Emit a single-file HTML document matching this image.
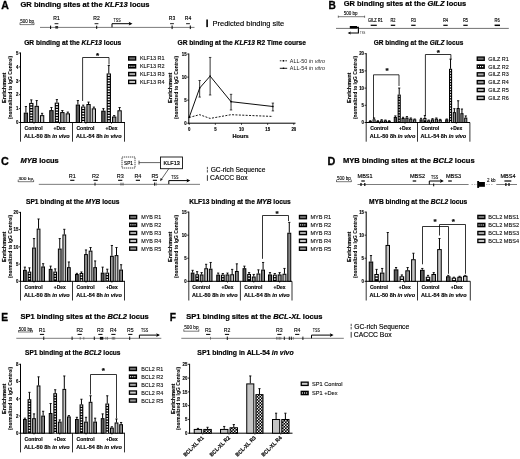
<!DOCTYPE html>
<html><head><meta charset="utf-8"><title>Figure</title>
<style>html,body{margin:0;padding:0;background:#fff}svg{display:block}text{font-family:"Liberation Sans", sans-serif}</style></head>
<body><svg width="520" height="459" viewBox="0 0 520 459">
<defs><pattern id="chk2" width="3" height="3" patternUnits="userSpaceOnUse"><rect width="3" height="3" fill="#000"/><rect x="0.1" y="0.1" width="1.4" height="1.4" fill="#fff"/><rect x="1.6" y="1.6" width="1.4" height="1.4" fill="#fff"/></pattern><pattern id="chk" width="2" height="2" patternUnits="userSpaceOnUse"><rect width="2" height="2" fill="#fff"/><rect width="1" height="1" fill="#000"/><rect x="1" y="1" width="1" height="1" fill="#000"/></pattern></defs>
<rect width="520" height="459" fill="#fff"/>
<text x="1.30" y="8.70" font-size="10.00" fill="#000" font-weight="bold" textLength="7.60" lengthAdjust="spacingAndGlyphs" stroke="#000" stroke-width="0.28">A</text>
<text x="20.50" y="7.00" font-size="7.54" fill="#000" xml:space="preserve" textLength="129.00" lengthAdjust="spacingAndGlyphs" stroke="#000" stroke-width="0.21"><tspan font-weight="bold">GR binding sites at the </tspan><tspan font-weight="bold" font-style="italic">KLF13</tspan><tspan font-weight="bold"> locus</tspan></text>
<line x1="20.00" y1="24.60" x2="34.00" y2="24.60" stroke="#222" stroke-width="0.60"/>
<line x1="20.00" y1="22.60" x2="20.00" y2="24.90" stroke="#222" stroke-width="0.60"/>
<line x1="34.00" y1="22.60" x2="34.00" y2="24.90" stroke="#222" stroke-width="0.60"/>
<text x="20.20" y="23.20" font-size="4.70" fill="#000" textLength="13.80" lengthAdjust="spacingAndGlyphs" stroke="#000" stroke-width="0.10">500 bp</text>
<line x1="40.00" y1="27.40" x2="194.50" y2="27.40" stroke="#222" stroke-width="0.60"/>
<text x="53.30" y="20.40" font-size="5.20" fill="#000" textLength="6.40" lengthAdjust="spacingAndGlyphs" stroke="#000" stroke-width="0.15">R1</text>
<line x1="54.60" y1="23.70" x2="58.40" y2="23.70" stroke="#000" stroke-width="0.90"/>
<text x="93.30" y="20.40" font-size="5.20" fill="#000" textLength="6.40" lengthAdjust="spacingAndGlyphs" stroke="#000" stroke-width="0.15">R2</text>
<line x1="94.60" y1="23.70" x2="98.40" y2="23.70" stroke="#000" stroke-width="0.90"/>
<text x="168.80" y="20.40" font-size="5.20" fill="#000" textLength="6.40" lengthAdjust="spacingAndGlyphs" stroke="#000" stroke-width="0.15">R3</text>
<line x1="170.10" y1="23.70" x2="173.90" y2="23.70" stroke="#000" stroke-width="0.90"/>
<text x="184.80" y="20.40" font-size="5.20" fill="#000" textLength="6.40" lengthAdjust="spacingAndGlyphs" stroke="#000" stroke-width="0.15">R4</text>
<line x1="186.10" y1="23.70" x2="189.90" y2="23.70" stroke="#000" stroke-width="0.90"/>
<line x1="50.60" y1="25.60" x2="50.60" y2="29.00" stroke="#000" stroke-width="1.00"/>
<rect x="55.30" y="26.00" width="2.80" height="2.60" fill="#333"/>
<line x1="96.70" y1="25.70" x2="96.70" y2="28.90" stroke="#000" stroke-width="1.00"/>
<line x1="172.10" y1="25.50" x2="172.10" y2="29.10" stroke="#000" stroke-width="1.00"/>
<line x1="190.30" y1="25.50" x2="190.30" y2="29.10" stroke="#000" stroke-width="1.00"/>
<path d="M112.00 27.30 V23.70 H131.00" fill="none" stroke="#000" stroke-width="1.00"/>
<path d="M132.50 23.70 l-3.8 -1.9 l0.8 1.9 l-0.8 1.9 z" fill="#000" stroke="none" stroke-width="0.00"/>
<text x="113.60" y="22.20" font-size="4.70" fill="#000" textLength="7.20" lengthAdjust="spacingAndGlyphs" stroke="#000" stroke-width="0.08">TSS</text>
<rect x="206.30" y="19.50" width="1.60" height="7.60" fill="#000"/>
<text x="212.50" y="26.40" font-size="7.51" fill="#000" textLength="71.80" lengthAdjust="spacingAndGlyphs" stroke="#000" stroke-width="0.15">Predicted binding site</text>
<text x="24.20" y="45.20" font-size="6.66" fill="#000" xml:space="preserve" textLength="97.00" lengthAdjust="spacingAndGlyphs" stroke="#000" stroke-width="0.19"><tspan font-weight="bold">GR binding at the </tspan><tspan font-weight="bold" font-style="italic">KLF13</tspan><tspan font-weight="bold"> locus</tspan></text>
<text x="-8.80" y="87.80" font-size="5.60" fill="#000" font-weight="bold" textLength="30.40" lengthAdjust="spacingAndGlyphs" stroke="#000" stroke-width="0.16" transform="rotate(-90 6.40 87.80)">Enrichment</text>
<text x="-19.60" y="87.50" font-size="4.90" fill="#000" font-weight="bold" textLength="63.40" lengthAdjust="spacingAndGlyphs" stroke="#000" stroke-width="0.06" transform="rotate(-90 12.10 87.50)">(normalized to IgG Control)</text>
<line x1="20.50" y1="52.50" x2="20.50" y2="123.00" stroke="#000" stroke-width="1.00"/>
<line x1="20.00" y1="122.50" x2="125.00" y2="122.50" stroke="#000" stroke-width="1.00"/>
<line x1="18.90" y1="122.50" x2="20.50" y2="122.50" stroke="#000" stroke-width="0.80"/>
<text x="15.90" y="124.25" font-size="5.00" fill="#000" font-weight="bold" textLength="2.40" lengthAdjust="spacingAndGlyphs" stroke="#000" stroke-width="0.14">0</text>
<line x1="18.90" y1="108.60" x2="20.50" y2="108.60" stroke="#000" stroke-width="0.80"/>
<text x="15.90" y="110.35" font-size="5.00" fill="#000" font-weight="bold" textLength="2.40" lengthAdjust="spacingAndGlyphs" stroke="#000" stroke-width="0.14">1</text>
<line x1="18.90" y1="94.70" x2="20.50" y2="94.70" stroke="#000" stroke-width="0.80"/>
<text x="15.90" y="96.45" font-size="5.00" fill="#000" font-weight="bold" textLength="2.40" lengthAdjust="spacingAndGlyphs" stroke="#000" stroke-width="0.14">2</text>
<line x1="18.90" y1="80.80" x2="20.50" y2="80.80" stroke="#000" stroke-width="0.80"/>
<text x="15.90" y="82.55" font-size="5.00" fill="#000" font-weight="bold" textLength="2.40" lengthAdjust="spacingAndGlyphs" stroke="#000" stroke-width="0.14">3</text>
<line x1="18.90" y1="66.90" x2="20.50" y2="66.90" stroke="#000" stroke-width="0.80"/>
<text x="15.90" y="68.65" font-size="5.00" fill="#000" font-weight="bold" textLength="2.40" lengthAdjust="spacingAndGlyphs" stroke="#000" stroke-width="0.14">4</text>
<line x1="18.90" y1="53.00" x2="20.50" y2="53.00" stroke="#000" stroke-width="0.80"/>
<text x="15.90" y="54.75" font-size="5.00" fill="#000" font-weight="bold" textLength="2.40" lengthAdjust="spacingAndGlyphs" stroke="#000" stroke-width="0.14">5</text>
<line x1="25.91" y1="112.65" x2="25.91" y2="106.53" stroke="#000" stroke-width="1.00"/>
<line x1="24.81" y1="106.53" x2="27.01" y2="106.53" stroke="#000" stroke-width="0.90"/>
<rect x="24.25" y="113.15" width="3.32" height="9.35" fill="#5a5a5a" stroke="#000" stroke-width="1.00"/>
<line x1="31.30" y1="102.92" x2="31.30" y2="99.86" stroke="#000" stroke-width="1.00"/>
<line x1="30.20" y1="99.86" x2="32.40" y2="99.86" stroke="#000" stroke-width="0.90"/>
<rect x="29.14" y="102.92" width="4.32" height="19.58" fill="#000"/>
<rect x="30.29" y="103.92" width="2.02" height="1.40" fill="#fff"/>
<rect x="30.29" y="106.62" width="2.02" height="1.40" fill="#fff"/>
<rect x="30.29" y="109.32" width="2.02" height="1.40" fill="#fff"/>
<rect x="30.29" y="112.02" width="2.02" height="1.40" fill="#fff"/>
<rect x="30.29" y="114.72" width="2.02" height="1.40" fill="#fff"/>
<rect x="30.29" y="117.42" width="2.02" height="1.40" fill="#fff"/>
<rect x="30.29" y="120.12" width="2.02" height="1.40" fill="#fff"/>
<line x1="36.70" y1="105.84" x2="36.70" y2="100.55" stroke="#000" stroke-width="1.00"/>
<line x1="35.60" y1="100.55" x2="37.80" y2="100.55" stroke="#000" stroke-width="0.90"/>
<rect x="35.04" y="106.34" width="3.32" height="16.16" fill="#9a9a9a" stroke="#000" stroke-width="1.00"/>
<line x1="42.09" y1="115.15" x2="42.09" y2="113.34" stroke="#000" stroke-width="1.00"/>
<line x1="40.99" y1="113.34" x2="43.19" y2="113.34" stroke="#000" stroke-width="0.90"/>
<rect x="40.43" y="115.65" width="3.32" height="6.85" fill="#c4c4c4" stroke="#000" stroke-width="1.00"/>
<line x1="51.43" y1="110.15" x2="51.43" y2="107.50" stroke="#000" stroke-width="1.00"/>
<line x1="50.33" y1="107.50" x2="52.53" y2="107.50" stroke="#000" stroke-width="0.90"/>
<rect x="49.75" y="110.65" width="3.37" height="11.85" fill="#5a5a5a" stroke="#000" stroke-width="1.00"/>
<line x1="56.89" y1="102.64" x2="56.89" y2="99.58" stroke="#000" stroke-width="1.00"/>
<line x1="55.79" y1="99.58" x2="57.99" y2="99.58" stroke="#000" stroke-width="0.90"/>
<rect x="54.71" y="102.64" width="4.37" height="19.86" fill="#000"/>
<rect x="55.86" y="103.64" width="2.07" height="1.40" fill="#fff"/>
<rect x="55.86" y="106.34" width="2.07" height="1.40" fill="#fff"/>
<rect x="55.86" y="109.04" width="2.07" height="1.40" fill="#fff"/>
<rect x="55.86" y="111.74" width="2.07" height="1.40" fill="#fff"/>
<rect x="55.86" y="114.44" width="2.07" height="1.40" fill="#fff"/>
<rect x="55.86" y="117.14" width="2.07" height="1.40" fill="#fff"/>
<rect x="55.86" y="119.84" width="2.07" height="1.40" fill="#fff"/>
<line x1="62.36" y1="112.09" x2="62.36" y2="110.56" stroke="#000" stroke-width="1.00"/>
<line x1="61.26" y1="110.56" x2="63.46" y2="110.56" stroke="#000" stroke-width="0.90"/>
<rect x="60.67" y="112.59" width="3.37" height="9.91" fill="#9a9a9a" stroke="#000" stroke-width="1.00"/>
<line x1="67.82" y1="113.34" x2="67.82" y2="112.09" stroke="#000" stroke-width="1.00"/>
<line x1="66.72" y1="112.09" x2="68.92" y2="112.09" stroke="#000" stroke-width="0.90"/>
<rect x="66.13" y="113.84" width="3.37" height="8.66" fill="#c4c4c4" stroke="#000" stroke-width="1.00"/>
<line x1="77.88" y1="104.59" x2="77.88" y2="100.55" stroke="#000" stroke-width="1.00"/>
<line x1="76.78" y1="100.55" x2="78.98" y2="100.55" stroke="#000" stroke-width="0.90"/>
<rect x="76.25" y="105.09" width="3.26" height="17.41" fill="#5a5a5a" stroke="#000" stroke-width="1.00"/>
<line x1="83.21" y1="106.53" x2="83.21" y2="105.14" stroke="#000" stroke-width="1.00"/>
<line x1="82.11" y1="105.14" x2="84.31" y2="105.14" stroke="#000" stroke-width="0.90"/>
<rect x="81.08" y="106.53" width="4.26" height="15.97" fill="#000"/>
<rect x="82.23" y="107.53" width="1.96" height="1.40" fill="#fff"/>
<rect x="82.23" y="110.23" width="1.96" height="1.40" fill="#fff"/>
<rect x="82.23" y="112.93" width="1.96" height="1.40" fill="#fff"/>
<rect x="82.23" y="115.63" width="1.96" height="1.40" fill="#fff"/>
<rect x="82.23" y="118.33" width="1.96" height="1.40" fill="#fff"/>
<rect x="82.23" y="121.03" width="1.96" height="1.40" fill="#fff"/>
<line x1="88.54" y1="104.03" x2="88.54" y2="102.08" stroke="#000" stroke-width="1.00"/>
<line x1="87.44" y1="102.08" x2="89.64" y2="102.08" stroke="#000" stroke-width="0.90"/>
<rect x="86.91" y="104.53" width="3.26" height="17.97" fill="#9a9a9a" stroke="#000" stroke-width="1.00"/>
<line x1="93.87" y1="108.34" x2="93.87" y2="107.09" stroke="#000" stroke-width="1.00"/>
<line x1="92.77" y1="107.09" x2="94.97" y2="107.09" stroke="#000" stroke-width="0.90"/>
<rect x="92.24" y="108.84" width="3.26" height="13.66" fill="#c4c4c4" stroke="#000" stroke-width="1.00"/>
<line x1="103.41" y1="110.70" x2="103.41" y2="108.62" stroke="#000" stroke-width="1.00"/>
<line x1="102.31" y1="108.62" x2="104.51" y2="108.62" stroke="#000" stroke-width="0.90"/>
<rect x="101.75" y="111.20" width="3.32" height="11.30" fill="#5a5a5a" stroke="#000" stroke-width="1.00"/>
<line x1="108.80" y1="73.45" x2="108.80" y2="65.53" stroke="#000" stroke-width="1.00"/>
<line x1="107.70" y1="65.53" x2="109.90" y2="65.53" stroke="#000" stroke-width="0.90"/>
<rect x="106.64" y="73.45" width="4.32" height="49.05" fill="#000"/>
<rect x="107.79" y="74.45" width="2.02" height="1.40" fill="#fff"/>
<rect x="107.79" y="77.15" width="2.02" height="1.40" fill="#fff"/>
<rect x="107.79" y="79.85" width="2.02" height="1.40" fill="#fff"/>
<rect x="107.79" y="82.55" width="2.02" height="1.40" fill="#fff"/>
<rect x="107.79" y="85.25" width="2.02" height="1.40" fill="#fff"/>
<rect x="107.79" y="87.95" width="2.02" height="1.40" fill="#fff"/>
<rect x="107.79" y="90.65" width="2.02" height="1.40" fill="#fff"/>
<rect x="107.79" y="93.35" width="2.02" height="1.40" fill="#fff"/>
<rect x="107.79" y="96.05" width="2.02" height="1.40" fill="#fff"/>
<rect x="107.79" y="98.75" width="2.02" height="1.40" fill="#fff"/>
<rect x="107.79" y="101.45" width="2.02" height="1.40" fill="#fff"/>
<rect x="107.79" y="104.15" width="2.02" height="1.40" fill="#fff"/>
<rect x="107.79" y="106.85" width="2.02" height="1.40" fill="#fff"/>
<rect x="107.79" y="109.55" width="2.02" height="1.40" fill="#fff"/>
<rect x="107.79" y="112.25" width="2.02" height="1.40" fill="#fff"/>
<rect x="107.79" y="114.95" width="2.02" height="1.40" fill="#fff"/>
<rect x="107.79" y="117.65" width="2.02" height="1.40" fill="#fff"/>
<rect x="107.79" y="120.35" width="2.02" height="1.40" fill="#fff"/>
<line x1="114.20" y1="116.54" x2="114.20" y2="115.57" stroke="#000" stroke-width="1.00"/>
<line x1="113.10" y1="115.57" x2="115.30" y2="115.57" stroke="#000" stroke-width="0.90"/>
<rect x="112.54" y="117.04" width="3.32" height="5.46" fill="#9a9a9a" stroke="#000" stroke-width="1.00"/>
<line x1="119.59" y1="110.28" x2="119.59" y2="107.50" stroke="#000" stroke-width="1.00"/>
<line x1="118.49" y1="107.50" x2="120.69" y2="107.50" stroke="#000" stroke-width="0.90"/>
<rect x="117.93" y="110.78" width="3.32" height="11.72" fill="#c4c4c4" stroke="#000" stroke-width="1.00"/>
<line x1="20.50" y1="122.50" x2="20.50" y2="141.70" stroke="#000" stroke-width="0.80"/>
<line x1="72.50" y1="122.50" x2="72.50" y2="141.70" stroke="#000" stroke-width="0.80"/>
<line x1="124.50" y1="122.50" x2="124.50" y2="141.70" stroke="#000" stroke-width="0.80"/>
<line x1="34.00" y1="122.50" x2="34.00" y2="123.80" stroke="#000" stroke-width="0.70"/>
<text x="24.60" y="129.80" font-size="5.30" fill="#000" font-weight="bold" textLength="18.00" lengthAdjust="spacingAndGlyphs" stroke="#000" stroke-width="0.15">Control</text>
<line x1="59.62" y1="122.50" x2="59.62" y2="123.80" stroke="#000" stroke-width="0.70"/>
<text x="53.62" y="129.80" font-size="5.30" fill="#000" font-weight="bold" textLength="12.00" lengthAdjust="spacingAndGlyphs" stroke="#000" stroke-width="0.15">+Dex</text>
<line x1="85.88" y1="122.50" x2="85.88" y2="123.80" stroke="#000" stroke-width="0.70"/>
<text x="76.47" y="129.80" font-size="5.30" fill="#000" font-weight="bold" textLength="18.00" lengthAdjust="spacingAndGlyphs" stroke="#000" stroke-width="0.15">Control</text>
<line x1="111.50" y1="122.50" x2="111.50" y2="123.80" stroke="#000" stroke-width="0.70"/>
<text x="105.50" y="129.80" font-size="5.30" fill="#000" font-weight="bold" textLength="12.00" lengthAdjust="spacingAndGlyphs" stroke="#000" stroke-width="0.15">+Dex</text>
<text x="24.07" y="138.20" font-size="5.50" fill="#000" xml:space="preserve" textLength="45.60" lengthAdjust="spacingAndGlyphs" stroke="#000" stroke-width="0.15"><tspan font-weight="bold">ALL-50 8h </tspan><tspan font-weight="bold" font-style="italic">in vivo</tspan></text>
<text x="75.95" y="138.20" font-size="5.50" fill="#000" xml:space="preserve" textLength="45.60" lengthAdjust="spacingAndGlyphs" stroke="#000" stroke-width="0.15"><tspan font-weight="bold">ALL-54 8h </tspan><tspan font-weight="bold" font-style="italic">in vivo</tspan></text>
<path d="M82.60 101.00 V57.50 H109.00 V64.50" fill="none" stroke="#000" stroke-width="0.80"/>
<text x="95.90" y="57.75" font-size="8.00" fill="#000" font-weight="bold" stroke="#000" stroke-width="0.22">*</text>
<rect x="128.65" y="56.75" width="7.00" height="3.30" fill="#727272" stroke="#000" stroke-width="1.30"/>
<text x="139.90" y="60.40" font-size="5.50" fill="#111" textLength="24.70" lengthAdjust="spacingAndGlyphs" stroke="#111" stroke-width="0.12">KLF13 R1</text>
<rect x="128.00" y="64.00" width="8.30" height="4.60" fill="#000"/>
<rect x="129.30" y="65.70" width="1.10" height="1.20" fill="#fff"/>
<rect x="131.40" y="65.70" width="1.10" height="1.20" fill="#fff"/>
<rect x="133.50" y="65.70" width="1.10" height="1.20" fill="#fff"/>
<text x="139.90" y="68.30" font-size="5.50" fill="#111" textLength="24.70" lengthAdjust="spacingAndGlyphs" stroke="#111" stroke-width="0.12">KLF13 R2</text>
<rect x="128.65" y="72.45" width="7.00" height="3.30" fill="#a9a9a9" stroke="#000" stroke-width="1.30"/>
<text x="139.90" y="76.10" font-size="5.50" fill="#111" textLength="24.70" lengthAdjust="spacingAndGlyphs" stroke="#111" stroke-width="0.12">KLF13 R3</text>
<rect x="128.65" y="80.25" width="7.00" height="3.30" fill="#cccccc" stroke="#000" stroke-width="1.30"/>
<text x="139.90" y="83.90" font-size="5.50" fill="#111" textLength="24.70" lengthAdjust="spacingAndGlyphs" stroke="#111" stroke-width="0.12">KLF13 R4</text>
<text x="177.50" y="45.20" font-size="6.63" fill="#000" xml:space="preserve" textLength="128.50" lengthAdjust="spacingAndGlyphs" stroke="#000" stroke-width="0.19"><tspan font-weight="bold">GR binding at the </tspan><tspan font-weight="bold" font-style="italic">KLF13</tspan><tspan font-weight="bold"> R2 Time course</tspan></text>
<text x="156.60" y="87.80" font-size="5.60" fill="#000" font-weight="bold" textLength="30.40" lengthAdjust="spacingAndGlyphs" stroke="#000" stroke-width="0.16" transform="rotate(-90 171.80 87.80)">Enrichment</text>
<text x="146.50" y="87.50" font-size="4.90" fill="#000" font-weight="bold" textLength="63.40" lengthAdjust="spacingAndGlyphs" stroke="#000" stroke-width="0.06" transform="rotate(-90 178.20 87.50)">(normalized to IgG Control)</text>
<line x1="188.80" y1="53.50" x2="188.80" y2="123.70" stroke="#000" stroke-width="1.00"/>
<line x1="188.30" y1="123.20" x2="295.50" y2="123.20" stroke="#000" stroke-width="1.00"/>
<line x1="187.20" y1="123.20" x2="188.80" y2="123.20" stroke="#000" stroke-width="0.80"/>
<text x="184.20" y="124.95" font-size="5.00" fill="#000" font-weight="bold" textLength="2.40" lengthAdjust="spacingAndGlyphs" stroke="#000" stroke-width="0.14">0</text>
<line x1="187.20" y1="100.15" x2="188.80" y2="100.15" stroke="#000" stroke-width="0.80"/>
<text x="184.20" y="101.90" font-size="5.00" fill="#000" font-weight="bold" textLength="2.40" lengthAdjust="spacingAndGlyphs" stroke="#000" stroke-width="0.14">5</text>
<line x1="187.20" y1="77.10" x2="188.80" y2="77.10" stroke="#000" stroke-width="0.80"/>
<text x="181.80" y="78.85" font-size="5.00" fill="#000" font-weight="bold" textLength="4.80" lengthAdjust="spacingAndGlyphs" stroke="#000" stroke-width="0.14">10</text>
<line x1="187.20" y1="54.05" x2="188.80" y2="54.05" stroke="#000" stroke-width="0.80"/>
<text x="181.80" y="55.80" font-size="5.00" fill="#000" font-weight="bold" textLength="4.80" lengthAdjust="spacingAndGlyphs" stroke="#000" stroke-width="0.14">15</text>
<line x1="189.20" y1="123.20" x2="189.20" y2="124.80" stroke="#000" stroke-width="0.80"/>
<text x="188.00" y="130.70" font-size="5.00" fill="#000" font-weight="bold" textLength="2.40" lengthAdjust="spacingAndGlyphs" stroke="#000" stroke-width="0.14">0</text>
<line x1="215.35" y1="123.20" x2="215.35" y2="124.80" stroke="#000" stroke-width="0.80"/>
<text x="214.15" y="130.70" font-size="5.00" fill="#000" font-weight="bold" textLength="2.40" lengthAdjust="spacingAndGlyphs" stroke="#000" stroke-width="0.14">5</text>
<line x1="241.50" y1="123.20" x2="241.50" y2="124.80" stroke="#000" stroke-width="0.80"/>
<text x="239.10" y="130.70" font-size="5.00" fill="#000" font-weight="bold" textLength="4.80" lengthAdjust="spacingAndGlyphs" stroke="#000" stroke-width="0.14">10</text>
<line x1="267.65" y1="123.20" x2="267.65" y2="124.80" stroke="#000" stroke-width="0.80"/>
<text x="265.25" y="130.70" font-size="5.00" fill="#000" font-weight="bold" textLength="4.80" lengthAdjust="spacingAndGlyphs" stroke="#000" stroke-width="0.14">15</text>
<line x1="293.80" y1="123.20" x2="293.80" y2="124.80" stroke="#000" stroke-width="0.80"/>
<text x="291.40" y="130.70" font-size="5.00" fill="#000" font-weight="bold" textLength="4.80" lengthAdjust="spacingAndGlyphs" stroke="#000" stroke-width="0.14">20</text>
<text x="232.45" y="137.60" font-size="5.60" fill="#000" font-weight="bold" textLength="16.30" lengthAdjust="spacingAndGlyphs" stroke="#000" stroke-width="0.16">Hours</text>
<path d="M189.20 117.37 L199.66 88.05 L210.12 76.11 L231.04 101.69 L272.88 106.49" fill="none" stroke="#000" stroke-width="0.95"/>
<line x1="199.66" y1="97.08" x2="199.66" y2="80.49" stroke="#000" stroke-width="0.80"/>
<line x1="198.46" y1="97.08" x2="200.86" y2="97.08" stroke="#000" stroke-width="0.70"/>
<line x1="198.46" y1="80.49" x2="200.86" y2="80.49" stroke="#000" stroke-width="0.70"/>
<line x1="210.12" y1="95.01" x2="210.12" y2="57.44" stroke="#000" stroke-width="0.80"/>
<line x1="208.92" y1="95.01" x2="211.32" y2="95.01" stroke="#000" stroke-width="0.70"/>
<line x1="208.92" y1="57.44" x2="211.32" y2="57.44" stroke="#000" stroke-width="0.70"/>
<line x1="231.04" y1="109.99" x2="231.04" y2="94.32" stroke="#000" stroke-width="0.80"/>
<line x1="229.84" y1="109.99" x2="232.24" y2="109.99" stroke="#000" stroke-width="0.70"/>
<line x1="229.84" y1="94.32" x2="232.24" y2="94.32" stroke="#000" stroke-width="0.70"/>
<line x1="272.88" y1="110.91" x2="272.88" y2="103.08" stroke="#000" stroke-width="0.80"/>
<line x1="271.68" y1="110.91" x2="274.08" y2="110.91" stroke="#000" stroke-width="0.70"/>
<line x1="271.68" y1="103.08" x2="274.08" y2="103.08" stroke="#000" stroke-width="0.70"/>
<path d="M189.20 117.41 L199.66 114.69 L210.12 118.43 L231.04 114.69 L272.88 116.45" fill="none" stroke="#000" stroke-width="0.90" stroke-dasharray="2 1.4"/>
<rect x="188.50" y="116.67" width="1.40" height="1.40" fill="#000"/>
<rect x="198.96" y="87.35" width="1.40" height="1.40" fill="#000"/>
<rect x="209.42" y="75.41" width="1.40" height="1.40" fill="#000"/>
<rect x="230.34" y="100.99" width="1.40" height="1.40" fill="#000"/>
<rect x="272.18" y="105.79" width="1.40" height="1.40" fill="#000"/>
<line x1="279.80" y1="60.80" x2="287.20" y2="60.80" stroke="#000" stroke-width="0.80" stroke-dasharray="1.6 1.2"/>
<rect x="282.80" y="60.10" width="1.40" height="1.40" fill="#000"/>
<text x="289.80" y="62.60" font-size="5.50" fill="#222" xml:space="preserve" textLength="35.20" lengthAdjust="spacingAndGlyphs"><tspan>ALL-50 </tspan><tspan font-style="italic">in vitro</tspan></text>
<line x1="279.80" y1="68.30" x2="287.20" y2="68.30" stroke="#000" stroke-width="0.90"/>
<rect x="282.80" y="67.60" width="1.40" height="1.40" fill="#000"/>
<text x="289.80" y="70.20" font-size="5.50" fill="#222" xml:space="preserve" textLength="35.20" lengthAdjust="spacingAndGlyphs"><tspan>ALL-54 </tspan><tspan font-style="italic">in vitro</tspan></text>
<text x="328.60" y="8.90" font-size="10.20" fill="#000" font-weight="bold" stroke="#000" stroke-width="0.29">B</text>
<text x="343.70" y="6.40" font-size="7.50" fill="#000" xml:space="preserve" textLength="122.50" lengthAdjust="spacingAndGlyphs" stroke="#000" stroke-width="0.21"><tspan font-weight="bold">GR binding sites at the </tspan><tspan font-weight="bold" font-style="italic">GILZ</tspan><tspan font-weight="bold"> locus</tspan></text>
<line x1="338.30" y1="16.70" x2="364.60" y2="16.70" stroke="#222" stroke-width="0.60"/>
<line x1="338.30" y1="15.60" x2="338.30" y2="17.80" stroke="#222" stroke-width="0.60"/>
<line x1="364.60" y1="15.60" x2="364.60" y2="17.80" stroke="#222" stroke-width="0.60"/>
<text x="343.80" y="14.90" font-size="4.50" fill="#000" textLength="13.80" lengthAdjust="spacingAndGlyphs" stroke="#000" stroke-width="0.10">500 bp</text>
<line x1="336.00" y1="28.40" x2="508.80" y2="28.40" stroke="#111" stroke-width="0.60"/>
<text x="368.00" y="21.60" font-size="4.80" fill="#000" textLength="14.80" lengthAdjust="spacingAndGlyphs" stroke="#000" stroke-width="0.15">GILZ R1</text>
<line x1="370.70" y1="25.30" x2="376.80" y2="25.30" stroke="#000" stroke-width="1.20"/>
<text x="390.50" y="21.60" font-size="4.80" fill="#000" textLength="5.00" lengthAdjust="spacingAndGlyphs" stroke="#000" stroke-width="0.15">R2</text>
<line x1="390.80" y1="25.30" x2="395.20" y2="25.30" stroke="#000" stroke-width="1.20"/>
<text x="410.90" y="21.60" font-size="4.80" fill="#000" textLength="5.00" lengthAdjust="spacingAndGlyphs" stroke="#000" stroke-width="0.15">R3</text>
<line x1="411.20" y1="25.30" x2="415.60" y2="25.30" stroke="#000" stroke-width="1.20"/>
<text x="443.00" y="21.60" font-size="4.80" fill="#000" textLength="5.00" lengthAdjust="spacingAndGlyphs" stroke="#000" stroke-width="0.15">R4</text>
<line x1="443.30" y1="25.30" x2="447.70" y2="25.30" stroke="#000" stroke-width="1.20"/>
<text x="463.00" y="21.60" font-size="4.80" fill="#000" textLength="5.00" lengthAdjust="spacingAndGlyphs" stroke="#000" stroke-width="0.15">R5</text>
<line x1="463.30" y1="25.30" x2="467.70" y2="25.30" stroke="#000" stroke-width="1.20"/>
<text x="494.60" y="21.60" font-size="4.80" fill="#000" textLength="5.20" lengthAdjust="spacingAndGlyphs" stroke="#000" stroke-width="0.15">R6</text>
<line x1="494.60" y1="25.30" x2="500.00" y2="25.30" stroke="#000" stroke-width="1.50"/>
<rect x="349.80" y="26.00" width="7.20" height="2.50" fill="#000"/>
<path d="M356 27.4 H358.4 V33.0 H350" fill="none" stroke="#000" stroke-width="1.10"/>
<path d="M347.6 33.0 l3.2 -1.6 l-0.6 1.6 l0.6 1.6 z" fill="#000" stroke="none" stroke-width="0.00"/>
<text x="360.00" y="33.70" font-size="2.90" fill="#222" textLength="5.20" lengthAdjust="spacingAndGlyphs">TSS</text>
<text x="373.80" y="45.20" font-size="6.50" fill="#000" xml:space="preserve" textLength="89.50" lengthAdjust="spacingAndGlyphs" stroke="#000" stroke-width="0.18"><tspan font-weight="bold">GR binding at the </tspan><tspan font-weight="bold" font-style="italic">GILZ</tspan><tspan font-weight="bold"> locus</tspan></text>
<text x="335.40" y="87.80" font-size="5.60" fill="#000" font-weight="bold" textLength="30.40" lengthAdjust="spacingAndGlyphs" stroke="#000" stroke-width="0.16" transform="rotate(-90 350.60 87.80)">Enrichment</text>
<text x="324.90" y="87.50" font-size="4.90" fill="#000" font-weight="bold" textLength="63.40" lengthAdjust="spacingAndGlyphs" stroke="#000" stroke-width="0.06" transform="rotate(-90 356.60 87.50)">(normalized to IgG Control)</text>
<line x1="366.20" y1="53.20" x2="366.20" y2="123.00" stroke="#000" stroke-width="1.00"/>
<line x1="365.70" y1="122.50" x2="470.00" y2="122.50" stroke="#000" stroke-width="1.00"/>
<line x1="364.60" y1="122.50" x2="366.20" y2="122.50" stroke="#000" stroke-width="0.80"/>
<text x="361.60" y="124.25" font-size="5.00" fill="#000" font-weight="bold" textLength="2.40" lengthAdjust="spacingAndGlyphs" stroke="#000" stroke-width="0.14">0</text>
<line x1="364.60" y1="105.30" x2="366.20" y2="105.30" stroke="#000" stroke-width="0.80"/>
<text x="361.60" y="107.05" font-size="5.00" fill="#000" font-weight="bold" textLength="2.40" lengthAdjust="spacingAndGlyphs" stroke="#000" stroke-width="0.14">5</text>
<line x1="364.60" y1="88.10" x2="366.20" y2="88.10" stroke="#000" stroke-width="0.80"/>
<text x="359.20" y="89.85" font-size="5.00" fill="#000" font-weight="bold" textLength="4.80" lengthAdjust="spacingAndGlyphs" stroke="#000" stroke-width="0.14">10</text>
<line x1="364.60" y1="70.90" x2="366.20" y2="70.90" stroke="#000" stroke-width="0.80"/>
<text x="359.20" y="72.65" font-size="5.00" fill="#000" font-weight="bold" textLength="4.80" lengthAdjust="spacingAndGlyphs" stroke="#000" stroke-width="0.14">15</text>
<line x1="364.60" y1="53.70" x2="366.20" y2="53.70" stroke="#000" stroke-width="0.80"/>
<text x="359.20" y="55.45" font-size="5.00" fill="#000" font-weight="bold" textLength="4.80" lengthAdjust="spacingAndGlyphs" stroke="#000" stroke-width="0.14">20</text>
<line x1="370.30" y1="121.07" x2="370.30" y2="120.72" stroke="#000" stroke-width="1.00"/>
<line x1="369.20" y1="120.72" x2="371.40" y2="120.72" stroke="#000" stroke-width="0.90"/>
<rect x="369.25" y="121.57" width="2.10" height="0.93" fill="#5a5a5a" stroke="#000" stroke-width="1.00"/>
<line x1="374.08" y1="119.35" x2="374.08" y2="117.97" stroke="#000" stroke-width="1.00"/>
<line x1="372.98" y1="117.97" x2="375.18" y2="117.97" stroke="#000" stroke-width="0.90"/>
<rect x="372.53" y="119.35" width="3.10" height="3.15" fill="#000"/>
<rect x="373.58" y="120.35" width="1.00" height="1.40" fill="#fff"/>
<line x1="377.86" y1="121.07" x2="377.86" y2="120.72" stroke="#000" stroke-width="1.00"/>
<line x1="376.76" y1="120.72" x2="378.96" y2="120.72" stroke="#000" stroke-width="0.90"/>
<rect x="376.81" y="121.57" width="2.10" height="0.93" fill="#9a9a9a" stroke="#000" stroke-width="1.00"/>
<line x1="381.64" y1="120.38" x2="381.64" y2="119.69" stroke="#000" stroke-width="1.00"/>
<line x1="380.54" y1="119.69" x2="382.74" y2="119.69" stroke="#000" stroke-width="0.90"/>
<rect x="380.59" y="120.88" width="2.10" height="1.62" fill="#8a8a8a" stroke="#000" stroke-width="1.00"/>
<line x1="385.42" y1="120.38" x2="385.42" y2="120.04" stroke="#000" stroke-width="1.00"/>
<line x1="384.32" y1="120.04" x2="386.52" y2="120.04" stroke="#000" stroke-width="0.90"/>
<rect x="384.37" y="120.88" width="2.10" height="1.62" fill="#9a9a9a" stroke="#000" stroke-width="1.00"/>
<line x1="389.20" y1="121.07" x2="389.20" y2="120.72" stroke="#000" stroke-width="1.00"/>
<line x1="388.10" y1="120.72" x2="390.30" y2="120.72" stroke="#000" stroke-width="0.90"/>
<rect x="388.15" y="121.57" width="2.10" height="0.93" fill="#a8a8a8" stroke="#000" stroke-width="1.00"/>
<line x1="395.34" y1="116.94" x2="395.34" y2="115.91" stroke="#000" stroke-width="1.00"/>
<line x1="394.24" y1="115.91" x2="396.44" y2="115.91" stroke="#000" stroke-width="0.90"/>
<rect x="394.25" y="117.44" width="2.17" height="5.06" fill="#5a5a5a" stroke="#000" stroke-width="1.00"/>
<line x1="399.20" y1="94.58" x2="399.20" y2="88.04" stroke="#000" stroke-width="1.00"/>
<line x1="398.10" y1="88.04" x2="400.30" y2="88.04" stroke="#000" stroke-width="0.90"/>
<rect x="397.62" y="94.58" width="3.17" height="27.92" fill="#000"/>
<rect x="398.70" y="95.58" width="1.00" height="1.40" fill="#fff"/>
<rect x="398.70" y="98.28" width="1.00" height="1.40" fill="#fff"/>
<rect x="398.70" y="100.98" width="1.00" height="1.40" fill="#fff"/>
<rect x="398.70" y="103.68" width="1.00" height="1.40" fill="#fff"/>
<rect x="398.70" y="106.38" width="1.00" height="1.40" fill="#fff"/>
<rect x="398.70" y="109.08" width="1.00" height="1.40" fill="#fff"/>
<rect x="398.70" y="111.78" width="1.00" height="1.40" fill="#fff"/>
<rect x="398.70" y="114.48" width="1.00" height="1.40" fill="#fff"/>
<rect x="398.70" y="117.18" width="1.00" height="1.40" fill="#fff"/>
<rect x="398.70" y="119.88" width="1.00" height="1.40" fill="#fff"/>
<line x1="403.07" y1="117.97" x2="403.07" y2="117.28" stroke="#000" stroke-width="1.00"/>
<line x1="401.97" y1="117.28" x2="404.17" y2="117.28" stroke="#000" stroke-width="0.90"/>
<rect x="401.98" y="118.47" width="2.17" height="4.03" fill="#9a9a9a" stroke="#000" stroke-width="1.00"/>
<line x1="406.93" y1="117.63" x2="406.93" y2="116.60" stroke="#000" stroke-width="1.00"/>
<line x1="405.83" y1="116.60" x2="408.03" y2="116.60" stroke="#000" stroke-width="0.90"/>
<rect x="405.85" y="118.13" width="2.17" height="4.37" fill="#8a8a8a" stroke="#000" stroke-width="1.00"/>
<line x1="410.80" y1="118.66" x2="410.80" y2="117.97" stroke="#000" stroke-width="1.00"/>
<line x1="409.70" y1="117.97" x2="411.90" y2="117.97" stroke="#000" stroke-width="0.90"/>
<rect x="409.71" y="119.16" width="2.17" height="3.34" fill="#9a9a9a" stroke="#000" stroke-width="1.00"/>
<line x1="414.66" y1="119.35" x2="414.66" y2="119.00" stroke="#000" stroke-width="1.00"/>
<line x1="413.56" y1="119.00" x2="415.76" y2="119.00" stroke="#000" stroke-width="0.90"/>
<rect x="413.58" y="119.85" width="2.17" height="2.65" fill="#a8a8a8" stroke="#000" stroke-width="1.00"/>
<line x1="421.07" y1="119.35" x2="421.07" y2="118.32" stroke="#000" stroke-width="1.00"/>
<line x1="419.97" y1="118.32" x2="422.17" y2="118.32" stroke="#000" stroke-width="0.90"/>
<rect x="420.00" y="119.85" width="2.13" height="2.65" fill="#5a5a5a" stroke="#000" stroke-width="1.00"/>
<line x1="424.89" y1="117.97" x2="424.89" y2="115.56" stroke="#000" stroke-width="1.00"/>
<line x1="423.79" y1="115.56" x2="425.99" y2="115.56" stroke="#000" stroke-width="0.90"/>
<rect x="423.32" y="117.97" width="3.13" height="4.53" fill="#000"/>
<rect x="424.39" y="118.97" width="1.00" height="1.40" fill="#fff"/>
<line x1="428.71" y1="120.38" x2="428.71" y2="120.04" stroke="#000" stroke-width="1.00"/>
<line x1="427.61" y1="120.04" x2="429.81" y2="120.04" stroke="#000" stroke-width="0.90"/>
<rect x="427.65" y="120.88" width="2.13" height="1.62" fill="#9a9a9a" stroke="#000" stroke-width="1.00"/>
<line x1="432.54" y1="119.35" x2="432.54" y2="118.66" stroke="#000" stroke-width="1.00"/>
<line x1="431.44" y1="118.66" x2="433.64" y2="118.66" stroke="#000" stroke-width="0.90"/>
<rect x="431.47" y="119.85" width="2.13" height="2.65" fill="#8a8a8a" stroke="#000" stroke-width="1.00"/>
<line x1="436.36" y1="118.66" x2="436.36" y2="117.97" stroke="#000" stroke-width="1.00"/>
<line x1="435.26" y1="117.97" x2="437.46" y2="117.97" stroke="#000" stroke-width="0.90"/>
<rect x="435.29" y="119.16" width="2.13" height="3.34" fill="#9a9a9a" stroke="#000" stroke-width="1.00"/>
<line x1="440.18" y1="119.69" x2="440.18" y2="119.35" stroke="#000" stroke-width="1.00"/>
<line x1="439.08" y1="119.35" x2="441.28" y2="119.35" stroke="#000" stroke-width="0.90"/>
<rect x="439.12" y="120.19" width="2.13" height="2.31" fill="#a8a8a8" stroke="#000" stroke-width="1.00"/>
<line x1="446.76" y1="119.35" x2="446.76" y2="119.00" stroke="#000" stroke-width="1.00"/>
<line x1="445.66" y1="119.00" x2="447.86" y2="119.00" stroke="#000" stroke-width="0.90"/>
<rect x="445.70" y="119.85" width="2.11" height="2.65" fill="#5a5a5a" stroke="#000" stroke-width="1.00"/>
<line x1="450.55" y1="68.78" x2="450.55" y2="59.15" stroke="#000" stroke-width="1.00"/>
<line x1="449.45" y1="59.15" x2="451.65" y2="59.15" stroke="#000" stroke-width="0.90"/>
<rect x="449.00" y="68.78" width="3.11" height="53.72" fill="#000"/>
<rect x="450.05" y="69.78" width="1.00" height="1.40" fill="#fff"/>
<rect x="450.05" y="72.48" width="1.00" height="1.40" fill="#fff"/>
<rect x="450.05" y="75.18" width="1.00" height="1.40" fill="#fff"/>
<rect x="450.05" y="77.88" width="1.00" height="1.40" fill="#fff"/>
<rect x="450.05" y="80.58" width="1.00" height="1.40" fill="#fff"/>
<rect x="450.05" y="83.28" width="1.00" height="1.40" fill="#fff"/>
<rect x="450.05" y="85.98" width="1.00" height="1.40" fill="#fff"/>
<rect x="450.05" y="88.68" width="1.00" height="1.40" fill="#fff"/>
<rect x="450.05" y="91.38" width="1.00" height="1.40" fill="#fff"/>
<rect x="450.05" y="94.08" width="1.00" height="1.40" fill="#fff"/>
<rect x="450.05" y="96.78" width="1.00" height="1.40" fill="#fff"/>
<rect x="450.05" y="99.48" width="1.00" height="1.40" fill="#fff"/>
<rect x="450.05" y="102.18" width="1.00" height="1.40" fill="#fff"/>
<rect x="450.05" y="104.88" width="1.00" height="1.40" fill="#fff"/>
<rect x="450.05" y="107.58" width="1.00" height="1.40" fill="#fff"/>
<rect x="450.05" y="110.28" width="1.00" height="1.40" fill="#fff"/>
<rect x="450.05" y="112.98" width="1.00" height="1.40" fill="#fff"/>
<rect x="450.05" y="115.68" width="1.00" height="1.40" fill="#fff"/>
<rect x="450.05" y="118.38" width="1.00" height="1.40" fill="#fff"/>
<rect x="450.05" y="121.08" width="1.00" height="1.40" fill="#fff"/>
<line x1="454.35" y1="112.12" x2="454.35" y2="108.68" stroke="#000" stroke-width="1.00"/>
<line x1="453.25" y1="108.68" x2="455.45" y2="108.68" stroke="#000" stroke-width="0.90"/>
<rect x="453.29" y="112.62" width="2.11" height="9.88" fill="#9a9a9a" stroke="#000" stroke-width="1.00"/>
<line x1="458.15" y1="108.00" x2="458.15" y2="100.77" stroke="#000" stroke-width="1.00"/>
<line x1="457.05" y1="100.77" x2="459.25" y2="100.77" stroke="#000" stroke-width="0.90"/>
<rect x="457.09" y="108.50" width="2.11" height="14.00" fill="#8a8a8a" stroke="#000" stroke-width="1.00"/>
<line x1="461.95" y1="113.16" x2="461.95" y2="109.03" stroke="#000" stroke-width="1.00"/>
<line x1="460.85" y1="109.03" x2="463.05" y2="109.03" stroke="#000" stroke-width="0.90"/>
<rect x="460.89" y="113.66" width="2.11" height="8.84" fill="#9a9a9a" stroke="#000" stroke-width="1.00"/>
<line x1="465.74" y1="117.63" x2="465.74" y2="115.91" stroke="#000" stroke-width="1.00"/>
<line x1="464.64" y1="115.91" x2="466.84" y2="115.91" stroke="#000" stroke-width="0.90"/>
<rect x="464.69" y="118.13" width="2.11" height="4.37" fill="#a8a8a8" stroke="#000" stroke-width="1.00"/>
<line x1="366.20" y1="122.50" x2="366.20" y2="141.70" stroke="#000" stroke-width="0.80"/>
<line x1="417.50" y1="122.50" x2="417.50" y2="141.70" stroke="#000" stroke-width="0.80"/>
<line x1="469.90" y1="122.50" x2="469.90" y2="141.70" stroke="#000" stroke-width="0.80"/>
<line x1="379.75" y1="122.50" x2="379.75" y2="123.80" stroke="#000" stroke-width="0.70"/>
<text x="370.35" y="129.80" font-size="5.30" fill="#000" font-weight="bold" textLength="18.00" lengthAdjust="spacingAndGlyphs" stroke="#000" stroke-width="0.15">Control</text>
<line x1="405.00" y1="122.50" x2="405.00" y2="123.80" stroke="#000" stroke-width="0.70"/>
<text x="399.00" y="129.80" font-size="5.30" fill="#000" font-weight="bold" textLength="12.00" lengthAdjust="spacingAndGlyphs" stroke="#000" stroke-width="0.15">+Dex</text>
<line x1="430.62" y1="122.50" x2="430.62" y2="123.80" stroke="#000" stroke-width="0.70"/>
<text x="421.23" y="129.80" font-size="5.30" fill="#000" font-weight="bold" textLength="18.00" lengthAdjust="spacingAndGlyphs" stroke="#000" stroke-width="0.15">Control</text>
<line x1="456.25" y1="122.50" x2="456.25" y2="123.80" stroke="#000" stroke-width="0.70"/>
<text x="450.25" y="129.80" font-size="5.30" fill="#000" font-weight="bold" textLength="12.00" lengthAdjust="spacingAndGlyphs" stroke="#000" stroke-width="0.15">+Dex</text>
<text x="369.70" y="138.20" font-size="5.50" fill="#000" xml:space="preserve" textLength="45.60" lengthAdjust="spacingAndGlyphs" stroke="#000" stroke-width="0.15"><tspan font-weight="bold">ALL-50 8h </tspan><tspan font-weight="bold" font-style="italic">in vivo</tspan></text>
<text x="420.60" y="138.20" font-size="5.50" fill="#000" xml:space="preserve" textLength="45.60" lengthAdjust="spacingAndGlyphs" stroke="#000" stroke-width="0.15"><tspan font-weight="bold">ALL-54 8h </tspan><tspan font-weight="bold" font-style="italic">in vivo</tspan></text>
<path d="M373.50 118.70 V74.80 H399.00 V86.00" fill="none" stroke="#000" stroke-width="0.80"/>
<text x="385.40" y="73.45" font-size="8.00" fill="#000" font-weight="bold" stroke="#000" stroke-width="0.22">*</text>
<path d="M425.40 115.50 V54.50 H450.90 V59.50" fill="none" stroke="#000" stroke-width="0.80"/>
<text x="436.80" y="55.45" font-size="8.00" fill="#000" font-weight="bold" stroke="#000" stroke-width="0.22">*</text>
<rect x="477.25" y="57.05" width="7.00" height="3.30" fill="#727272" stroke="#000" stroke-width="1.30"/>
<text x="488.30" y="60.70" font-size="5.50" fill="#111" textLength="20.50" lengthAdjust="spacingAndGlyphs" stroke="#111" stroke-width="0.12">GILZ R1</text>
<rect x="476.60" y="64.30" width="8.30" height="4.60" fill="#000"/>
<rect x="477.90" y="66.00" width="1.10" height="1.20" fill="#fff"/>
<rect x="480.00" y="66.00" width="1.10" height="1.20" fill="#fff"/>
<rect x="482.10" y="66.00" width="1.10" height="1.20" fill="#fff"/>
<text x="488.30" y="68.60" font-size="5.50" fill="#111" textLength="20.50" lengthAdjust="spacingAndGlyphs" stroke="#111" stroke-width="0.12">GILZ R2</text>
<rect x="477.25" y="72.75" width="7.00" height="3.30" fill="#a9a9a9" stroke="#000" stroke-width="1.30"/>
<text x="488.30" y="76.40" font-size="5.50" fill="#111" textLength="20.50" lengthAdjust="spacingAndGlyphs" stroke="#111" stroke-width="0.12">GILZ R3</text>
<rect x="477.25" y="80.55" width="7.00" height="3.30" fill="#9b9b9b" stroke="#000" stroke-width="1.30"/>
<text x="488.30" y="84.20" font-size="5.50" fill="#111" textLength="20.50" lengthAdjust="spacingAndGlyphs" stroke="#111" stroke-width="0.12">GILZ R4</text>
<rect x="477.25" y="88.35" width="7.00" height="3.30" fill="#a9a9a9" stroke="#000" stroke-width="1.30"/>
<text x="488.30" y="92.00" font-size="5.50" fill="#111" textLength="20.50" lengthAdjust="spacingAndGlyphs" stroke="#111" stroke-width="0.12">GILZ R5</text>
<rect x="477.25" y="96.25" width="7.00" height="3.30" fill="#b5b5b5" stroke="#000" stroke-width="1.30"/>
<text x="488.30" y="99.90" font-size="5.50" fill="#111" textLength="20.50" lengthAdjust="spacingAndGlyphs" stroke="#111" stroke-width="0.12">GILZ R6</text>
<text x="1.00" y="165.00" font-size="10.50" fill="#000" font-weight="bold" textLength="7.80" lengthAdjust="spacingAndGlyphs" stroke="#000" stroke-width="0.29">C</text>
<text x="20.50" y="162.60" font-size="7.49" fill="#000" xml:space="preserve" textLength="38.30" lengthAdjust="spacingAndGlyphs" stroke="#000" stroke-width="0.21"><tspan font-weight="bold" font-style="italic">MYB</tspan><tspan font-weight="bold"> locus</tspan></text>
<rect x="122" y="157" width="13" height="11" fill="#fff" stroke="#222" stroke-width="0.8" stroke-dasharray="1.3 0.7"/>
<text x="124.10" y="164.70" font-size="5.20" fill="#000" textLength="8.80" lengthAdjust="spacingAndGlyphs" stroke="#000" stroke-width="0.15">SP1</text>
<rect x="160.50" y="157.00" width="22.00" height="11.70" fill="#fff" stroke="#111" stroke-width="0.90"/>
<text x="163.60" y="165.00" font-size="5.70" fill="#000" textLength="16.20" lengthAdjust="spacingAndGlyphs" stroke="#000" stroke-width="0.20">KLF13</text>
<line x1="139.00" y1="162.60" x2="160.50" y2="162.60" stroke="#222" stroke-width="0.70"/>
<line x1="139.00" y1="160.60" x2="139.00" y2="164.60" stroke="#222" stroke-width="0.80"/>
<line x1="168.80" y1="168.70" x2="161.20" y2="179.60" stroke="#222" stroke-width="0.70"/>
<path d="M160 181.2 l0.6 -3.2 l2.2 1.5 z" fill="#222" stroke="none" stroke-width="0.00"/>
<line x1="18.20" y1="181.70" x2="33.60" y2="181.70" stroke="#222" stroke-width="0.60"/>
<line x1="18.20" y1="179.70" x2="18.20" y2="182.00" stroke="#222" stroke-width="0.60"/>
<line x1="33.60" y1="179.70" x2="33.60" y2="182.00" stroke="#222" stroke-width="0.60"/>
<text x="18.40" y="179.80" font-size="4.40" fill="#000" textLength="14.80" lengthAdjust="spacingAndGlyphs" stroke="#000" stroke-width="0.10">300 bp</text>
<line x1="38.80" y1="184.35" x2="200.00" y2="184.35" stroke="#222" stroke-width="0.60"/>
<text x="68.80" y="177.60" font-size="5.80" fill="#000" textLength="7.00" lengthAdjust="spacingAndGlyphs" stroke="#000" stroke-width="0.12">R1</text>
<line x1="70.20" y1="180.30" x2="74.40" y2="180.30" stroke="#000" stroke-width="1.10"/>
<text x="92.10" y="177.60" font-size="5.80" fill="#000" textLength="7.00" lengthAdjust="spacingAndGlyphs" stroke="#000" stroke-width="0.12">R2</text>
<line x1="93.50" y1="180.30" x2="97.70" y2="180.30" stroke="#000" stroke-width="1.10"/>
<text x="116.70" y="177.60" font-size="5.80" fill="#000" textLength="7.00" lengthAdjust="spacingAndGlyphs" stroke="#000" stroke-width="0.12">R3</text>
<line x1="118.10" y1="180.30" x2="122.30" y2="180.30" stroke="#000" stroke-width="1.10"/>
<text x="134.40" y="177.60" font-size="5.80" fill="#000" textLength="7.00" lengthAdjust="spacingAndGlyphs" stroke="#000" stroke-width="0.12">R4</text>
<line x1="135.80" y1="180.30" x2="140.00" y2="180.30" stroke="#000" stroke-width="1.10"/>
<text x="151.40" y="177.60" font-size="5.80" fill="#000" textLength="7.00" lengthAdjust="spacingAndGlyphs" stroke="#000" stroke-width="0.12">R5</text>
<line x1="152.80" y1="180.30" x2="157.00" y2="180.30" stroke="#000" stroke-width="1.10"/>
<line x1="95.00" y1="182.60" x2="95.00" y2="185.60" stroke="#000" stroke-width="0.90"/>
<line x1="121.00" y1="182.70" x2="121.00" y2="185.50" stroke="#222" stroke-width="0.70"/>
<line x1="123.00" y1="182.70" x2="123.00" y2="185.50" stroke="#222" stroke-width="0.70"/>
<line x1="154.60" y1="182.50" x2="154.60" y2="185.70" stroke="#000" stroke-width="0.90"/>
<line x1="156.10" y1="182.60" x2="156.10" y2="185.60" stroke="#333" stroke-width="0.70"/>
<path d="M168.80 184.10 V180.60 H188.80" fill="none" stroke="#000" stroke-width="1.00"/>
<path d="M190.30 180.60 l-3.8 -1.9 l0.8 1.9 l-0.8 1.9 z" fill="#000" stroke="none" stroke-width="0.00"/>
<text x="171.20" y="178.80" font-size="4.70" fill="#000" textLength="7.20" lengthAdjust="spacingAndGlyphs" stroke="#000" stroke-width="0.08">TSS</text>
<line x1="207.40" y1="166.90" x2="207.40" y2="172.50" stroke="#222" stroke-width="0.80" stroke-dasharray="2.4 0.8"/>
<text x="210.70" y="172.10" font-size="6.65" fill="#000" textLength="54.70" lengthAdjust="spacingAndGlyphs" stroke="#000" stroke-width="0.15">GC-rich Sequence</text>
<line x1="207.40" y1="175.20" x2="207.40" y2="180.80" stroke="#000" stroke-width="0.80"/>
<text x="210.00" y="180.20" font-size="6.77" fill="#000" textLength="37.60" lengthAdjust="spacingAndGlyphs" stroke="#000" stroke-width="0.15">CACCC Box</text>
<text x="26.00" y="203.80" font-size="6.63" fill="#000" xml:space="preserve" textLength="93.50" lengthAdjust="spacingAndGlyphs" stroke="#000" stroke-width="0.19"><tspan font-weight="bold">SP1 binding at the </tspan><tspan font-weight="bold" font-style="italic">MYB</tspan><tspan font-weight="bold"> locus</tspan></text>
<text x="-8.80" y="246.80" font-size="5.60" fill="#000" font-weight="bold" textLength="30.40" lengthAdjust="spacingAndGlyphs" stroke="#000" stroke-width="0.16" transform="rotate(-90 6.40 246.80)">Enrichment</text>
<text x="-19.60" y="246.50" font-size="4.90" fill="#000" font-weight="bold" textLength="63.40" lengthAdjust="spacingAndGlyphs" stroke="#000" stroke-width="0.06" transform="rotate(-90 12.10 246.50)">(normalized to IgG Control)</text>
<line x1="20.50" y1="211.90" x2="20.50" y2="281.80" stroke="#000" stroke-width="1.00"/>
<line x1="20.00" y1="281.30" x2="125.00" y2="281.30" stroke="#000" stroke-width="1.00"/>
<line x1="18.90" y1="281.30" x2="20.50" y2="281.30" stroke="#000" stroke-width="0.80"/>
<text x="15.90" y="283.05" font-size="5.00" fill="#000" font-weight="bold" textLength="2.40" lengthAdjust="spacingAndGlyphs" stroke="#000" stroke-width="0.14">0</text>
<line x1="18.90" y1="264.07" x2="20.50" y2="264.07" stroke="#000" stroke-width="0.80"/>
<text x="15.90" y="265.82" font-size="5.00" fill="#000" font-weight="bold" textLength="2.40" lengthAdjust="spacingAndGlyphs" stroke="#000" stroke-width="0.14">5</text>
<line x1="18.90" y1="246.85" x2="20.50" y2="246.85" stroke="#000" stroke-width="0.80"/>
<text x="13.50" y="248.60" font-size="5.00" fill="#000" font-weight="bold" textLength="4.80" lengthAdjust="spacingAndGlyphs" stroke="#000" stroke-width="0.14">10</text>
<line x1="18.90" y1="229.62" x2="20.50" y2="229.62" stroke="#000" stroke-width="0.80"/>
<text x="13.50" y="231.38" font-size="5.00" fill="#000" font-weight="bold" textLength="4.80" lengthAdjust="spacingAndGlyphs" stroke="#000" stroke-width="0.14">15</text>
<line x1="18.90" y1="212.40" x2="20.50" y2="212.40" stroke="#000" stroke-width="0.80"/>
<text x="13.50" y="214.15" font-size="5.00" fill="#000" font-weight="bold" textLength="4.80" lengthAdjust="spacingAndGlyphs" stroke="#000" stroke-width="0.14">20</text>
<line x1="24.87" y1="269.89" x2="24.87" y2="267.14" stroke="#000" stroke-width="1.00"/>
<line x1="23.77" y1="267.14" x2="25.97" y2="267.14" stroke="#000" stroke-width="0.90"/>
<rect x="23.50" y="270.39" width="2.74" height="10.91" fill="#5a5a5a" stroke="#000" stroke-width="1.00"/>
<line x1="29.44" y1="271.61" x2="29.44" y2="267.83" stroke="#000" stroke-width="1.00"/>
<line x1="28.34" y1="267.83" x2="30.54" y2="267.83" stroke="#000" stroke-width="0.90"/>
<rect x="27.56" y="271.61" width="3.74" height="9.69" fill="#000"/>
<rect x="28.71" y="272.61" width="1.44" height="1.40" fill="#fff"/>
<rect x="28.71" y="275.31" width="1.44" height="1.40" fill="#fff"/>
<rect x="28.71" y="278.01" width="1.44" height="1.40" fill="#fff"/>
<line x1="34.00" y1="247.53" x2="34.00" y2="238.59" stroke="#000" stroke-width="1.00"/>
<line x1="32.90" y1="238.59" x2="35.10" y2="238.59" stroke="#000" stroke-width="0.90"/>
<rect x="32.63" y="248.03" width="2.74" height="33.27" fill="#9a9a9a" stroke="#000" stroke-width="1.00"/>
<line x1="38.56" y1="228.61" x2="38.56" y2="218.98" stroke="#000" stroke-width="1.00"/>
<line x1="37.46" y1="218.98" x2="39.66" y2="218.98" stroke="#000" stroke-width="0.90"/>
<rect x="37.19" y="229.11" width="2.74" height="52.19" fill="#c4c4c4" stroke="#000" stroke-width="1.00"/>
<line x1="43.13" y1="266.45" x2="43.13" y2="263.70" stroke="#000" stroke-width="1.00"/>
<line x1="42.03" y1="263.70" x2="44.23" y2="263.70" stroke="#000" stroke-width="0.90"/>
<rect x="41.76" y="266.95" width="2.74" height="14.35" fill="#8a8a8a" stroke="#000" stroke-width="1.00"/>
<line x1="50.62" y1="268.86" x2="50.62" y2="266.11" stroke="#000" stroke-width="1.00"/>
<line x1="49.52" y1="266.11" x2="51.72" y2="266.11" stroke="#000" stroke-width="0.90"/>
<rect x="49.25" y="269.36" width="2.74" height="11.94" fill="#5a5a5a" stroke="#000" stroke-width="1.00"/>
<line x1="55.19" y1="271.61" x2="55.19" y2="268.86" stroke="#000" stroke-width="1.00"/>
<line x1="54.09" y1="268.86" x2="56.29" y2="268.86" stroke="#000" stroke-width="0.90"/>
<rect x="53.31" y="271.61" width="3.74" height="9.69" fill="#000"/>
<rect x="54.46" y="272.61" width="1.44" height="1.40" fill="#fff"/>
<rect x="54.46" y="275.31" width="1.44" height="1.40" fill="#fff"/>
<rect x="54.46" y="278.01" width="1.44" height="1.40" fill="#fff"/>
<line x1="59.75" y1="248.56" x2="59.75" y2="238.59" stroke="#000" stroke-width="1.00"/>
<line x1="58.65" y1="238.59" x2="60.85" y2="238.59" stroke="#000" stroke-width="0.90"/>
<rect x="58.38" y="249.06" width="2.74" height="32.24" fill="#9a9a9a" stroke="#000" stroke-width="1.00"/>
<line x1="64.31" y1="234.46" x2="64.31" y2="229.30" stroke="#000" stroke-width="1.00"/>
<line x1="63.21" y1="229.30" x2="65.41" y2="229.30" stroke="#000" stroke-width="0.90"/>
<rect x="62.94" y="234.96" width="2.74" height="46.34" fill="#c4c4c4" stroke="#000" stroke-width="1.00"/>
<line x1="68.88" y1="267.14" x2="68.88" y2="261.98" stroke="#000" stroke-width="1.00"/>
<line x1="67.78" y1="261.98" x2="69.98" y2="261.98" stroke="#000" stroke-width="0.90"/>
<rect x="67.51" y="267.64" width="2.74" height="13.66" fill="#8a8a8a" stroke="#000" stroke-width="1.00"/>
<line x1="76.87" y1="274.02" x2="76.87" y2="273.33" stroke="#000" stroke-width="1.00"/>
<line x1="75.77" y1="273.33" x2="77.97" y2="273.33" stroke="#000" stroke-width="0.90"/>
<rect x="75.50" y="274.52" width="2.74" height="6.78" fill="#5a5a5a" stroke="#000" stroke-width="1.00"/>
<line x1="81.44" y1="272.99" x2="81.44" y2="271.96" stroke="#000" stroke-width="1.00"/>
<line x1="80.34" y1="271.96" x2="82.54" y2="271.96" stroke="#000" stroke-width="0.90"/>
<rect x="79.56" y="272.99" width="3.74" height="8.31" fill="#000"/>
<rect x="80.71" y="273.99" width="1.44" height="1.40" fill="#fff"/>
<rect x="80.71" y="276.69" width="1.44" height="1.40" fill="#fff"/>
<rect x="80.71" y="279.39" width="1.44" height="1.40" fill="#fff"/>
<line x1="86.00" y1="254.07" x2="86.00" y2="249.94" stroke="#000" stroke-width="1.00"/>
<line x1="84.90" y1="249.94" x2="87.10" y2="249.94" stroke="#000" stroke-width="0.90"/>
<rect x="84.63" y="254.57" width="2.74" height="26.73" fill="#9a9a9a" stroke="#000" stroke-width="1.00"/>
<line x1="90.56" y1="250.63" x2="90.56" y2="247.53" stroke="#000" stroke-width="1.00"/>
<line x1="89.46" y1="247.53" x2="91.66" y2="247.53" stroke="#000" stroke-width="0.90"/>
<rect x="89.19" y="251.13" width="2.74" height="30.17" fill="#c4c4c4" stroke="#000" stroke-width="1.00"/>
<line x1="95.13" y1="267.14" x2="95.13" y2="260.95" stroke="#000" stroke-width="1.00"/>
<line x1="94.03" y1="260.95" x2="96.23" y2="260.95" stroke="#000" stroke-width="0.90"/>
<rect x="93.76" y="267.64" width="2.74" height="13.66" fill="#8a8a8a" stroke="#000" stroke-width="1.00"/>
<line x1="102.64" y1="272.64" x2="102.64" y2="267.14" stroke="#000" stroke-width="1.00"/>
<line x1="101.54" y1="267.14" x2="103.74" y2="267.14" stroke="#000" stroke-width="0.90"/>
<rect x="101.25" y="273.14" width="2.79" height="8.16" fill="#5a5a5a" stroke="#000" stroke-width="1.00"/>
<line x1="107.26" y1="272.64" x2="107.26" y2="269.20" stroke="#000" stroke-width="1.00"/>
<line x1="106.16" y1="269.20" x2="108.36" y2="269.20" stroke="#000" stroke-width="0.90"/>
<rect x="105.37" y="272.64" width="3.79" height="8.66" fill="#000"/>
<rect x="106.52" y="273.64" width="1.49" height="1.40" fill="#fff"/>
<rect x="106.52" y="276.34" width="1.49" height="1.40" fill="#fff"/>
<rect x="106.52" y="279.04" width="1.49" height="1.40" fill="#fff"/>
<line x1="111.88" y1="255.79" x2="111.88" y2="245.47" stroke="#000" stroke-width="1.00"/>
<line x1="110.78" y1="245.47" x2="112.97" y2="245.47" stroke="#000" stroke-width="0.90"/>
<rect x="110.48" y="256.29" width="2.79" height="25.01" fill="#9a9a9a" stroke="#000" stroke-width="1.00"/>
<line x1="116.49" y1="255.10" x2="116.49" y2="247.53" stroke="#000" stroke-width="1.00"/>
<line x1="115.39" y1="247.53" x2="117.59" y2="247.53" stroke="#000" stroke-width="0.90"/>
<rect x="115.10" y="255.60" width="2.79" height="25.70" fill="#c4c4c4" stroke="#000" stroke-width="1.00"/>
<line x1="121.11" y1="269.55" x2="121.11" y2="264.73" stroke="#000" stroke-width="1.00"/>
<line x1="120.01" y1="264.73" x2="122.21" y2="264.73" stroke="#000" stroke-width="0.90"/>
<rect x="119.71" y="270.05" width="2.79" height="11.25" fill="#8a8a8a" stroke="#000" stroke-width="1.00"/>
<line x1="20.50" y1="281.30" x2="20.50" y2="300.50" stroke="#000" stroke-width="0.80"/>
<line x1="72.50" y1="281.30" x2="72.50" y2="300.50" stroke="#000" stroke-width="0.80"/>
<line x1="124.50" y1="281.30" x2="124.50" y2="300.50" stroke="#000" stroke-width="0.80"/>
<line x1="34.00" y1="281.30" x2="34.00" y2="282.60" stroke="#000" stroke-width="0.70"/>
<text x="24.60" y="288.60" font-size="5.30" fill="#000" font-weight="bold" textLength="18.00" lengthAdjust="spacingAndGlyphs" stroke="#000" stroke-width="0.15">Control</text>
<line x1="59.75" y1="281.30" x2="59.75" y2="282.60" stroke="#000" stroke-width="0.70"/>
<text x="53.75" y="288.60" font-size="5.30" fill="#000" font-weight="bold" textLength="12.00" lengthAdjust="spacingAndGlyphs" stroke="#000" stroke-width="0.15">+Dex</text>
<line x1="86.00" y1="281.30" x2="86.00" y2="282.60" stroke="#000" stroke-width="0.70"/>
<text x="76.60" y="288.60" font-size="5.30" fill="#000" font-weight="bold" textLength="18.00" lengthAdjust="spacingAndGlyphs" stroke="#000" stroke-width="0.15">Control</text>
<line x1="111.88" y1="281.30" x2="111.88" y2="282.60" stroke="#000" stroke-width="0.70"/>
<text x="105.88" y="288.60" font-size="5.30" fill="#000" font-weight="bold" textLength="12.00" lengthAdjust="spacingAndGlyphs" stroke="#000" stroke-width="0.15">+Dex</text>
<text x="24.07" y="297.00" font-size="5.50" fill="#000" xml:space="preserve" textLength="45.60" lengthAdjust="spacingAndGlyphs" stroke="#000" stroke-width="0.15"><tspan font-weight="bold">ALL-50 8h </tspan><tspan font-weight="bold" font-style="italic">in vivo</tspan></text>
<text x="76.20" y="297.00" font-size="5.50" fill="#000" xml:space="preserve" textLength="45.60" lengthAdjust="spacingAndGlyphs" stroke="#000" stroke-width="0.15"><tspan font-weight="bold">ALL-54 8h </tspan><tspan font-weight="bold" font-style="italic">in vivo</tspan></text>
<rect x="129.65" y="215.45" width="7.00" height="3.30" fill="#727272" stroke="#000" stroke-width="1.30"/>
<text x="141.20" y="219.10" font-size="5.50" fill="#111" textLength="20.00" lengthAdjust="spacingAndGlyphs" stroke="#111" stroke-width="0.12">MYB R1</text>
<rect x="129.00" y="222.50" width="8.30" height="4.60" fill="#000"/>
<rect x="130.30" y="224.20" width="1.10" height="1.20" fill="#fff"/>
<rect x="132.40" y="224.20" width="1.10" height="1.20" fill="#fff"/>
<rect x="134.50" y="224.20" width="1.10" height="1.20" fill="#fff"/>
<text x="141.20" y="226.80" font-size="5.50" fill="#111" textLength="20.00" lengthAdjust="spacingAndGlyphs" stroke="#111" stroke-width="0.12">MYB R2</text>
<rect x="129.65" y="231.35" width="7.00" height="3.30" fill="#a9a9a9" stroke="#000" stroke-width="1.30"/>
<text x="141.20" y="235.00" font-size="5.50" fill="#111" textLength="20.00" lengthAdjust="spacingAndGlyphs" stroke="#111" stroke-width="0.12">MYB R3</text>
<rect x="129.65" y="239.25" width="7.00" height="3.30" fill="#cccccc" stroke="#000" stroke-width="1.30"/>
<text x="141.20" y="242.90" font-size="5.50" fill="#111" textLength="20.00" lengthAdjust="spacingAndGlyphs" stroke="#111" stroke-width="0.12">MYB R4</text>
<rect x="129.65" y="246.95" width="7.00" height="3.30" fill="#9b9b9b" stroke="#000" stroke-width="1.30"/>
<text x="141.20" y="250.60" font-size="5.50" fill="#111" textLength="20.00" lengthAdjust="spacingAndGlyphs" stroke="#111" stroke-width="0.12">MYB R5</text>
<text x="189.20" y="203.80" font-size="6.64" fill="#000" xml:space="preserve" textLength="101.50" lengthAdjust="spacingAndGlyphs" stroke="#000" stroke-width="0.19"><tspan font-weight="bold">KLF13 binding at the </tspan><tspan font-weight="bold" font-style="italic">MYB</tspan><tspan font-weight="bold"> locus</tspan></text>
<text x="156.60" y="246.80" font-size="5.60" fill="#000" font-weight="bold" textLength="30.40" lengthAdjust="spacingAndGlyphs" stroke="#000" stroke-width="0.16" transform="rotate(-90 171.80 246.80)">Enrichment</text>
<text x="146.50" y="246.50" font-size="4.90" fill="#000" font-weight="bold" textLength="63.40" lengthAdjust="spacingAndGlyphs" stroke="#000" stroke-width="0.06" transform="rotate(-90 178.20 246.50)">(normalized to IgG Control)</text>
<line x1="188.80" y1="211.60" x2="188.80" y2="281.80" stroke="#000" stroke-width="1.00"/>
<line x1="188.30" y1="281.30" x2="292.00" y2="281.30" stroke="#000" stroke-width="1.00"/>
<line x1="187.20" y1="281.30" x2="188.80" y2="281.30" stroke="#000" stroke-width="0.80"/>
<text x="184.20" y="283.05" font-size="5.00" fill="#000" font-weight="bold" textLength="2.40" lengthAdjust="spacingAndGlyphs" stroke="#000" stroke-width="0.14">0</text>
<line x1="187.20" y1="258.23" x2="188.80" y2="258.23" stroke="#000" stroke-width="0.80"/>
<text x="184.20" y="259.98" font-size="5.00" fill="#000" font-weight="bold" textLength="2.40" lengthAdjust="spacingAndGlyphs" stroke="#000" stroke-width="0.14">5</text>
<line x1="187.20" y1="235.17" x2="188.80" y2="235.17" stroke="#000" stroke-width="0.80"/>
<text x="181.80" y="236.92" font-size="5.00" fill="#000" font-weight="bold" textLength="4.80" lengthAdjust="spacingAndGlyphs" stroke="#000" stroke-width="0.14">10</text>
<line x1="187.20" y1="212.10" x2="188.80" y2="212.10" stroke="#000" stroke-width="0.80"/>
<text x="181.80" y="213.85" font-size="5.00" fill="#000" font-weight="bold" textLength="4.80" lengthAdjust="spacingAndGlyphs" stroke="#000" stroke-width="0.14">15</text>
<line x1="192.60" y1="272.60" x2="192.60" y2="270.30" stroke="#000" stroke-width="1.00"/>
<line x1="191.50" y1="270.30" x2="193.70" y2="270.30" stroke="#000" stroke-width="0.90"/>
<rect x="191.25" y="273.10" width="2.70" height="8.20" fill="#5a5a5a" stroke="#000" stroke-width="1.00"/>
<line x1="197.11" y1="274.22" x2="197.11" y2="271.68" stroke="#000" stroke-width="1.00"/>
<line x1="196.01" y1="271.68" x2="198.21" y2="271.68" stroke="#000" stroke-width="0.90"/>
<rect x="195.26" y="274.22" width="3.70" height="7.08" fill="#000"/>
<rect x="196.41" y="275.22" width="1.40" height="1.40" fill="#fff"/>
<rect x="196.41" y="277.92" width="1.40" height="1.40" fill="#fff"/>
<line x1="201.62" y1="274.45" x2="201.62" y2="272.60" stroke="#000" stroke-width="1.00"/>
<line x1="200.53" y1="272.60" x2="202.72" y2="272.60" stroke="#000" stroke-width="0.90"/>
<rect x="200.27" y="274.95" width="2.70" height="6.35" fill="#9a9a9a" stroke="#000" stroke-width="1.00"/>
<line x1="206.14" y1="268.22" x2="206.14" y2="264.30" stroke="#000" stroke-width="1.00"/>
<line x1="205.04" y1="264.30" x2="207.24" y2="264.30" stroke="#000" stroke-width="0.90"/>
<rect x="204.79" y="268.72" width="2.70" height="12.58" fill="#c4c4c4" stroke="#000" stroke-width="1.00"/>
<line x1="210.65" y1="268.68" x2="210.65" y2="262.46" stroke="#000" stroke-width="1.00"/>
<line x1="209.55" y1="262.46" x2="211.75" y2="262.46" stroke="#000" stroke-width="0.90"/>
<rect x="209.30" y="269.18" width="2.70" height="12.12" fill="#8a8a8a" stroke="#000" stroke-width="1.00"/>
<line x1="218.16" y1="274.68" x2="218.16" y2="273.06" stroke="#000" stroke-width="1.00"/>
<line x1="217.06" y1="273.06" x2="219.26" y2="273.06" stroke="#000" stroke-width="0.90"/>
<rect x="216.75" y="275.18" width="2.83" height="6.12" fill="#5a5a5a" stroke="#000" stroke-width="1.00"/>
<line x1="222.83" y1="274.68" x2="222.83" y2="273.52" stroke="#000" stroke-width="1.00"/>
<line x1="221.73" y1="273.52" x2="223.93" y2="273.52" stroke="#000" stroke-width="0.90"/>
<rect x="220.92" y="274.68" width="3.83" height="6.62" fill="#000"/>
<rect x="222.07" y="275.68" width="1.53" height="1.40" fill="#fff"/>
<rect x="222.07" y="278.38" width="1.53" height="1.40" fill="#fff"/>
<line x1="227.50" y1="274.45" x2="227.50" y2="273.06" stroke="#000" stroke-width="1.00"/>
<line x1="226.40" y1="273.06" x2="228.60" y2="273.06" stroke="#000" stroke-width="0.90"/>
<rect x="226.09" y="274.95" width="2.83" height="6.35" fill="#9a9a9a" stroke="#000" stroke-width="1.00"/>
<line x1="232.17" y1="274.22" x2="232.17" y2="269.38" stroke="#000" stroke-width="1.00"/>
<line x1="231.07" y1="269.38" x2="233.27" y2="269.38" stroke="#000" stroke-width="0.90"/>
<rect x="230.75" y="274.72" width="2.83" height="6.58" fill="#c4c4c4" stroke="#000" stroke-width="1.00"/>
<line x1="236.84" y1="270.99" x2="236.84" y2="263.84" stroke="#000" stroke-width="1.00"/>
<line x1="235.74" y1="263.84" x2="237.94" y2="263.84" stroke="#000" stroke-width="0.90"/>
<rect x="235.42" y="271.49" width="2.83" height="9.81" fill="#8a8a8a" stroke="#000" stroke-width="1.00"/>
<line x1="244.41" y1="268.22" x2="244.41" y2="266.15" stroke="#000" stroke-width="1.00"/>
<line x1="243.31" y1="266.15" x2="245.51" y2="266.15" stroke="#000" stroke-width="0.90"/>
<rect x="243.00" y="268.72" width="2.83" height="12.58" fill="#5a5a5a" stroke="#000" stroke-width="1.00"/>
<line x1="249.08" y1="273.99" x2="249.08" y2="272.60" stroke="#000" stroke-width="1.00"/>
<line x1="247.98" y1="272.60" x2="250.18" y2="272.60" stroke="#000" stroke-width="0.90"/>
<rect x="247.17" y="273.99" width="3.83" height="7.31" fill="#000"/>
<rect x="248.32" y="274.99" width="1.53" height="1.40" fill="#fff"/>
<rect x="248.32" y="277.69" width="1.53" height="1.40" fill="#fff"/>
<line x1="253.75" y1="276.52" x2="253.75" y2="274.45" stroke="#000" stroke-width="1.00"/>
<line x1="252.65" y1="274.45" x2="254.85" y2="274.45" stroke="#000" stroke-width="0.90"/>
<rect x="252.34" y="277.02" width="2.83" height="4.28" fill="#9a9a9a" stroke="#000" stroke-width="1.00"/>
<line x1="258.42" y1="273.52" x2="258.42" y2="269.84" stroke="#000" stroke-width="1.00"/>
<line x1="257.32" y1="269.84" x2="259.52" y2="269.84" stroke="#000" stroke-width="0.90"/>
<rect x="257.00" y="274.02" width="2.83" height="7.28" fill="#c4c4c4" stroke="#000" stroke-width="1.00"/>
<line x1="263.09" y1="269.61" x2="263.09" y2="262.46" stroke="#000" stroke-width="1.00"/>
<line x1="261.99" y1="262.46" x2="264.19" y2="262.46" stroke="#000" stroke-width="0.90"/>
<rect x="261.67" y="270.11" width="2.83" height="11.19" fill="#8a8a8a" stroke="#000" stroke-width="1.00"/>
<line x1="269.98" y1="274.45" x2="269.98" y2="272.60" stroke="#000" stroke-width="1.00"/>
<line x1="268.88" y1="272.60" x2="271.08" y2="272.60" stroke="#000" stroke-width="0.90"/>
<rect x="268.50" y="274.95" width="2.96" height="6.35" fill="#5a5a5a" stroke="#000" stroke-width="1.00"/>
<line x1="274.80" y1="274.68" x2="274.80" y2="273.52" stroke="#000" stroke-width="1.00"/>
<line x1="273.70" y1="273.52" x2="275.90" y2="273.52" stroke="#000" stroke-width="0.90"/>
<rect x="272.82" y="274.68" width="3.96" height="6.62" fill="#000"/>
<rect x="273.97" y="275.68" width="1.66" height="1.40" fill="#fff"/>
<rect x="273.97" y="278.38" width="1.66" height="1.40" fill="#fff"/>
<line x1="279.62" y1="274.45" x2="279.62" y2="272.60" stroke="#000" stroke-width="1.00"/>
<line x1="278.52" y1="272.60" x2="280.73" y2="272.60" stroke="#000" stroke-width="0.90"/>
<rect x="278.15" y="274.95" width="2.96" height="6.35" fill="#9a9a9a" stroke="#000" stroke-width="1.00"/>
<line x1="284.45" y1="273.75" x2="284.45" y2="268.45" stroke="#000" stroke-width="1.00"/>
<line x1="283.35" y1="268.45" x2="285.55" y2="268.45" stroke="#000" stroke-width="0.90"/>
<rect x="282.97" y="274.25" width="2.96" height="7.05" fill="#c4c4c4" stroke="#000" stroke-width="1.00"/>
<line x1="289.27" y1="232.73" x2="289.27" y2="222.35" stroke="#000" stroke-width="1.00"/>
<line x1="288.17" y1="222.35" x2="290.37" y2="222.35" stroke="#000" stroke-width="0.90"/>
<rect x="287.79" y="233.23" width="2.96" height="48.07" fill="#8a8a8a" stroke="#000" stroke-width="1.00"/>
<line x1="188.80" y1="281.30" x2="188.80" y2="300.50" stroke="#000" stroke-width="0.80"/>
<line x1="240.40" y1="281.30" x2="240.40" y2="300.50" stroke="#000" stroke-width="0.80"/>
<line x1="292.00" y1="281.30" x2="292.00" y2="300.50" stroke="#000" stroke-width="0.80"/>
<line x1="201.62" y1="281.30" x2="201.62" y2="282.60" stroke="#000" stroke-width="0.70"/>
<text x="192.22" y="288.60" font-size="5.30" fill="#000" font-weight="bold" textLength="18.00" lengthAdjust="spacingAndGlyphs" stroke="#000" stroke-width="0.15">Control</text>
<line x1="227.50" y1="281.30" x2="227.50" y2="282.60" stroke="#000" stroke-width="0.70"/>
<text x="221.50" y="288.60" font-size="5.30" fill="#000" font-weight="bold" textLength="12.00" lengthAdjust="spacingAndGlyphs" stroke="#000" stroke-width="0.15">+Dex</text>
<line x1="253.75" y1="281.30" x2="253.75" y2="282.60" stroke="#000" stroke-width="0.70"/>
<text x="244.35" y="288.60" font-size="5.30" fill="#000" font-weight="bold" textLength="18.00" lengthAdjust="spacingAndGlyphs" stroke="#000" stroke-width="0.15">Control</text>
<line x1="279.62" y1="281.30" x2="279.62" y2="282.60" stroke="#000" stroke-width="0.70"/>
<text x="273.62" y="288.60" font-size="5.30" fill="#000" font-weight="bold" textLength="12.00" lengthAdjust="spacingAndGlyphs" stroke="#000" stroke-width="0.15">+Dex</text>
<text x="191.95" y="297.00" font-size="5.50" fill="#000" xml:space="preserve" textLength="45.60" lengthAdjust="spacingAndGlyphs" stroke="#000" stroke-width="0.15"><tspan font-weight="bold">ALL-50 8h </tspan><tspan font-weight="bold" font-style="italic">in vivo</tspan></text>
<text x="244.07" y="297.00" font-size="5.50" fill="#000" xml:space="preserve" textLength="45.60" lengthAdjust="spacingAndGlyphs" stroke="#000" stroke-width="0.15"><tspan font-weight="bold">ALL-54 8h </tspan><tspan font-weight="bold" font-style="italic">in vivo</tspan></text>
<path d="M262.50 258.80 V215.50 H288.50 V221.00" fill="none" stroke="#000" stroke-width="0.80"/>
<text x="275.40" y="216.05" font-size="8.00" fill="#000" font-weight="bold" stroke="#000" stroke-width="0.22">*</text>
<rect x="299.45" y="215.45" width="7.00" height="3.30" fill="#727272" stroke="#000" stroke-width="1.30"/>
<text x="310.40" y="219.10" font-size="5.50" fill="#111" textLength="20.80" lengthAdjust="spacingAndGlyphs" stroke="#111" stroke-width="0.12">MYB R1</text>
<rect x="298.80" y="222.60" width="8.30" height="4.60" fill="#000"/>
<rect x="300.10" y="224.30" width="1.10" height="1.20" fill="#fff"/>
<rect x="302.20" y="224.30" width="1.10" height="1.20" fill="#fff"/>
<rect x="304.30" y="224.30" width="1.10" height="1.20" fill="#fff"/>
<text x="310.40" y="226.90" font-size="5.50" fill="#111" textLength="20.80" lengthAdjust="spacingAndGlyphs" stroke="#111" stroke-width="0.12">MYB R2</text>
<rect x="299.45" y="231.35" width="7.00" height="3.30" fill="#a9a9a9" stroke="#000" stroke-width="1.30"/>
<text x="310.40" y="235.00" font-size="5.50" fill="#111" textLength="20.80" lengthAdjust="spacingAndGlyphs" stroke="#111" stroke-width="0.12">MYB R3</text>
<rect x="299.45" y="239.25" width="7.00" height="3.30" fill="#cccccc" stroke="#000" stroke-width="1.30"/>
<text x="310.40" y="242.90" font-size="5.50" fill="#111" textLength="20.80" lengthAdjust="spacingAndGlyphs" stroke="#111" stroke-width="0.12">MYB R4</text>
<rect x="299.45" y="247.05" width="7.00" height="3.30" fill="#9b9b9b" stroke="#000" stroke-width="1.30"/>
<text x="310.40" y="250.70" font-size="5.50" fill="#111" textLength="20.80" lengthAdjust="spacingAndGlyphs" stroke="#111" stroke-width="0.12">MYB R5</text>
<text x="327.50" y="165.00" font-size="10.80" fill="#000" font-weight="bold" stroke="#000" stroke-width="0.30">D</text>
<text x="343.00" y="162.60" font-size="7.57" fill="#000" xml:space="preserve" textLength="131.60" lengthAdjust="spacingAndGlyphs" stroke="#000" stroke-width="0.21"><tspan font-weight="bold">MYB binding sites at the </tspan><tspan font-weight="bold" font-style="italic">BCL2</tspan><tspan font-weight="bold"> locus</tspan></text>
<line x1="336.50" y1="181.70" x2="351.30" y2="181.70" stroke="#222" stroke-width="0.60"/>
<line x1="336.50" y1="179.70" x2="336.50" y2="182.00" stroke="#222" stroke-width="0.60"/>
<line x1="351.30" y1="179.70" x2="351.30" y2="182.00" stroke="#222" stroke-width="0.60"/>
<text x="337.00" y="180.00" font-size="4.60" fill="#000" textLength="13.70" lengthAdjust="spacingAndGlyphs" stroke="#000" stroke-width="0.10">500 bp</text>
<line x1="357.50" y1="184.50" x2="468.60" y2="184.50" stroke="#222" stroke-width="0.60"/>
<line x1="471.50" y1="184.50" x2="477.30" y2="184.50" stroke="#888" stroke-width="0.60" stroke-dasharray="1.5 1.0"/>
<line x1="486.00" y1="184.50" x2="492.50" y2="184.50" stroke="#888" stroke-width="0.60" stroke-dasharray="1.5 1.0"/>
<line x1="496.30" y1="184.50" x2="517.00" y2="184.50" stroke="#222" stroke-width="0.60"/>
<rect x="477.20" y="181.00" width="1.90" height="6.90" fill="#000"/>
<rect x="479.00" y="182.00" width="5.90" height="4.80" fill="#000"/>
<text x="487.00" y="181.60" font-size="5.00" fill="#000" textLength="8.60" lengthAdjust="spacingAndGlyphs" stroke="#000" stroke-width="0.10">2 kb</text>
<text x="357.60" y="177.90" font-size="6.20" fill="#000" textLength="15.00" lengthAdjust="spacingAndGlyphs" stroke="#000" stroke-width="0.18">MBS1</text>
<line x1="361.30" y1="181.00" x2="364.80" y2="181.00" stroke="#000" stroke-width="1.20"/>
<text x="410.00" y="177.90" font-size="6.20" fill="#000" textLength="15.00" lengthAdjust="spacingAndGlyphs" stroke="#000" stroke-width="0.18">MBS2</text>
<line x1="412.70" y1="181.00" x2="416.20" y2="181.00" stroke="#000" stroke-width="1.20"/>
<text x="446.00" y="177.90" font-size="6.20" fill="#000" textLength="15.00" lengthAdjust="spacingAndGlyphs" stroke="#000" stroke-width="0.18">MBS3</text>
<line x1="448.20" y1="181.00" x2="451.80" y2="181.00" stroke="#000" stroke-width="1.20"/>
<text x="500.50" y="177.90" font-size="6.20" fill="#000" textLength="15.00" lengthAdjust="spacingAndGlyphs" stroke="#000" stroke-width="0.18">MBS4</text>
<line x1="504.40" y1="181.00" x2="511.30" y2="181.00" stroke="#000" stroke-width="1.20"/>
<line x1="361.00" y1="183.10" x2="361.00" y2="185.90" stroke="#000" stroke-width="1.20"/>
<line x1="364.80" y1="183.10" x2="364.80" y2="185.90" stroke="#000" stroke-width="1.20"/>
<line x1="505.90" y1="183.10" x2="505.90" y2="185.90" stroke="#000" stroke-width="1.20"/>
<line x1="509.00" y1="183.10" x2="509.00" y2="185.90" stroke="#000" stroke-width="1.20"/>
<line x1="433.70" y1="183.50" x2="433.70" y2="186.30" stroke="#000" stroke-width="1.00"/>
<path d="M429.30 184.50 V181.00 H442.30" fill="none" stroke="#000" stroke-width="1.00"/>
<path d="M443.80 181.00 l-3.8 -1.9 l0.8 1.9 l-0.8 1.9 z" fill="#000" stroke="none" stroke-width="0.00"/>
<text x="431.00" y="179.20" font-size="4.70" fill="#000" textLength="7.20" lengthAdjust="spacingAndGlyphs" stroke="#000" stroke-width="0.08">TSS</text>
<text x="369.00" y="203.60" font-size="6.63" fill="#000" xml:space="preserve" textLength="98.30" lengthAdjust="spacingAndGlyphs" stroke="#000" stroke-width="0.19"><tspan font-weight="bold">MYB binding at the </tspan><tspan font-weight="bold" font-style="italic">BCL2</tspan><tspan font-weight="bold"> locus</tspan></text>
<text x="335.40" y="246.80" font-size="5.60" fill="#000" font-weight="bold" textLength="30.40" lengthAdjust="spacingAndGlyphs" stroke="#000" stroke-width="0.16" transform="rotate(-90 350.60 246.80)">Enrichment</text>
<text x="324.90" y="246.50" font-size="4.90" fill="#000" font-weight="bold" textLength="63.40" lengthAdjust="spacingAndGlyphs" stroke="#000" stroke-width="0.06" transform="rotate(-90 356.60 246.50)">(normalized to IgG Control)</text>
<line x1="366.20" y1="211.60" x2="366.20" y2="281.80" stroke="#000" stroke-width="1.00"/>
<line x1="365.70" y1="281.30" x2="470.30" y2="281.30" stroke="#000" stroke-width="1.00"/>
<line x1="364.60" y1="281.30" x2="366.20" y2="281.30" stroke="#000" stroke-width="0.80"/>
<text x="361.60" y="283.05" font-size="5.00" fill="#000" font-weight="bold" textLength="2.40" lengthAdjust="spacingAndGlyphs" stroke="#000" stroke-width="0.14">0</text>
<line x1="364.60" y1="258.23" x2="366.20" y2="258.23" stroke="#000" stroke-width="0.80"/>
<text x="361.60" y="259.98" font-size="5.00" fill="#000" font-weight="bold" textLength="2.40" lengthAdjust="spacingAndGlyphs" stroke="#000" stroke-width="0.14">5</text>
<line x1="364.60" y1="235.17" x2="366.20" y2="235.17" stroke="#000" stroke-width="0.80"/>
<text x="359.20" y="236.92" font-size="5.00" fill="#000" font-weight="bold" textLength="4.80" lengthAdjust="spacingAndGlyphs" stroke="#000" stroke-width="0.14">10</text>
<line x1="364.60" y1="212.10" x2="366.20" y2="212.10" stroke="#000" stroke-width="0.80"/>
<text x="359.20" y="213.85" font-size="5.00" fill="#000" font-weight="bold" textLength="4.80" lengthAdjust="spacingAndGlyphs" stroke="#000" stroke-width="0.14">15</text>
<line x1="370.99" y1="261.54" x2="370.99" y2="255.55" stroke="#000" stroke-width="1.00"/>
<line x1="369.89" y1="255.55" x2="372.09" y2="255.55" stroke="#000" stroke-width="0.90"/>
<rect x="369.25" y="262.04" width="3.47" height="19.26" fill="#5a5a5a" stroke="#000" stroke-width="1.00"/>
<line x1="376.58" y1="273.99" x2="376.58" y2="269.38" stroke="#000" stroke-width="1.00"/>
<line x1="375.48" y1="269.38" x2="377.68" y2="269.38" stroke="#000" stroke-width="0.90"/>
<rect x="374.34" y="273.99" width="4.47" height="7.31" fill="#000"/>
<rect x="375.49" y="274.99" width="2.17" height="1.40" fill="#fff"/>
<rect x="375.49" y="277.69" width="2.17" height="1.40" fill="#fff"/>
<line x1="382.17" y1="272.60" x2="382.17" y2="268.45" stroke="#000" stroke-width="1.00"/>
<line x1="381.07" y1="268.45" x2="383.27" y2="268.45" stroke="#000" stroke-width="0.90"/>
<rect x="380.43" y="273.10" width="3.47" height="8.20" fill="#9a9a9a" stroke="#000" stroke-width="1.00"/>
<line x1="387.76" y1="244.94" x2="387.76" y2="232.50" stroke="#000" stroke-width="1.00"/>
<line x1="386.66" y1="232.50" x2="388.86" y2="232.50" stroke="#000" stroke-width="0.90"/>
<rect x="386.03" y="245.44" width="3.47" height="35.86" fill="#c4c4c4" stroke="#000" stroke-width="1.00"/>
<line x1="396.07" y1="269.38" x2="396.07" y2="267.53" stroke="#000" stroke-width="1.00"/>
<line x1="394.97" y1="267.53" x2="397.17" y2="267.53" stroke="#000" stroke-width="0.90"/>
<rect x="394.25" y="269.88" width="3.63" height="11.42" fill="#5a5a5a" stroke="#000" stroke-width="1.00"/>
<line x1="401.86" y1="276.29" x2="401.86" y2="274.91" stroke="#000" stroke-width="1.00"/>
<line x1="400.76" y1="274.91" x2="402.96" y2="274.91" stroke="#000" stroke-width="0.90"/>
<rect x="399.54" y="276.29" width="4.63" height="5.01" fill="#000"/>
<rect x="400.69" y="277.29" width="2.33" height="1.40" fill="#fff"/>
<rect x="400.69" y="279.99" width="2.33" height="1.40" fill="#fff"/>
<line x1="407.64" y1="270.30" x2="407.64" y2="267.53" stroke="#000" stroke-width="1.00"/>
<line x1="406.54" y1="267.53" x2="408.74" y2="267.53" stroke="#000" stroke-width="0.90"/>
<rect x="405.83" y="270.80" width="3.63" height="10.50" fill="#9a9a9a" stroke="#000" stroke-width="1.00"/>
<line x1="413.43" y1="259.23" x2="413.43" y2="253.24" stroke="#000" stroke-width="1.00"/>
<line x1="412.33" y1="253.24" x2="414.53" y2="253.24" stroke="#000" stroke-width="0.90"/>
<rect x="411.62" y="259.73" width="3.63" height="21.57" fill="#c4c4c4" stroke="#000" stroke-width="1.00"/>
<line x1="422.29" y1="269.84" x2="422.29" y2="268.45" stroke="#000" stroke-width="1.00"/>
<line x1="421.19" y1="268.45" x2="423.39" y2="268.45" stroke="#000" stroke-width="0.90"/>
<rect x="420.50" y="270.34" width="3.58" height="10.96" fill="#5a5a5a" stroke="#000" stroke-width="1.00"/>
<line x1="428.01" y1="276.75" x2="428.01" y2="275.37" stroke="#000" stroke-width="1.00"/>
<line x1="426.91" y1="275.37" x2="429.11" y2="275.37" stroke="#000" stroke-width="0.90"/>
<rect x="425.72" y="276.75" width="4.58" height="4.55" fill="#000"/>
<rect x="426.87" y="277.75" width="2.28" height="1.40" fill="#fff"/>
<line x1="433.74" y1="273.99" x2="433.74" y2="272.60" stroke="#000" stroke-width="1.00"/>
<line x1="432.64" y1="272.60" x2="434.84" y2="272.60" stroke="#000" stroke-width="0.90"/>
<rect x="431.95" y="274.49" width="3.58" height="6.81" fill="#9a9a9a" stroke="#000" stroke-width="1.00"/>
<line x1="439.46" y1="249.09" x2="439.46" y2="238.49" stroke="#000" stroke-width="1.00"/>
<line x1="438.36" y1="238.49" x2="440.56" y2="238.49" stroke="#000" stroke-width="0.90"/>
<rect x="437.67" y="249.59" width="3.58" height="31.71" fill="#c4c4c4" stroke="#000" stroke-width="1.00"/>
<line x1="448.26" y1="276.29" x2="448.26" y2="275.37" stroke="#000" stroke-width="1.00"/>
<line x1="447.16" y1="275.37" x2="449.36" y2="275.37" stroke="#000" stroke-width="0.90"/>
<rect x="446.50" y="276.79" width="3.53" height="4.51" fill="#5a5a5a" stroke="#000" stroke-width="1.00"/>
<line x1="453.92" y1="277.67" x2="453.92" y2="277.21" stroke="#000" stroke-width="1.00"/>
<line x1="452.82" y1="277.21" x2="455.02" y2="277.21" stroke="#000" stroke-width="0.90"/>
<rect x="451.66" y="277.67" width="4.53" height="3.63" fill="#000"/>
<rect x="452.81" y="278.67" width="2.23" height="1.40" fill="#fff"/>
<line x1="459.58" y1="276.75" x2="459.58" y2="276.29" stroke="#000" stroke-width="1.00"/>
<line x1="458.48" y1="276.29" x2="460.68" y2="276.29" stroke="#000" stroke-width="0.90"/>
<rect x="457.82" y="277.25" width="3.53" height="4.05" fill="#9a9a9a" stroke="#000" stroke-width="1.00"/>
<line x1="465.24" y1="275.83" x2="465.24" y2="275.37" stroke="#000" stroke-width="1.00"/>
<line x1="464.14" y1="275.37" x2="466.34" y2="275.37" stroke="#000" stroke-width="0.90"/>
<rect x="463.47" y="276.33" width="3.53" height="4.97" fill="#c4c4c4" stroke="#000" stroke-width="1.00"/>
<line x1="366.20" y1="281.30" x2="366.20" y2="300.50" stroke="#000" stroke-width="0.80"/>
<line x1="417.50" y1="281.30" x2="417.50" y2="300.50" stroke="#000" stroke-width="0.80"/>
<line x1="470.30" y1="281.30" x2="470.30" y2="300.50" stroke="#000" stroke-width="0.80"/>
<line x1="379.38" y1="281.30" x2="379.38" y2="282.60" stroke="#000" stroke-width="0.70"/>
<text x="369.98" y="288.60" font-size="5.30" fill="#000" font-weight="bold" textLength="18.00" lengthAdjust="spacingAndGlyphs" stroke="#000" stroke-width="0.15">Control</text>
<line x1="404.75" y1="281.30" x2="404.75" y2="282.60" stroke="#000" stroke-width="0.70"/>
<text x="398.75" y="288.60" font-size="5.30" fill="#000" font-weight="bold" textLength="12.00" lengthAdjust="spacingAndGlyphs" stroke="#000" stroke-width="0.15">+Dex</text>
<line x1="430.88" y1="281.30" x2="430.88" y2="282.60" stroke="#000" stroke-width="0.70"/>
<text x="421.48" y="288.60" font-size="5.30" fill="#000" font-weight="bold" textLength="18.00" lengthAdjust="spacingAndGlyphs" stroke="#000" stroke-width="0.15">Control</text>
<line x1="456.75" y1="281.30" x2="456.75" y2="282.60" stroke="#000" stroke-width="0.70"/>
<text x="450.75" y="288.60" font-size="5.30" fill="#000" font-weight="bold" textLength="12.00" lengthAdjust="spacingAndGlyphs" stroke="#000" stroke-width="0.15">+Dex</text>
<text x="369.45" y="297.00" font-size="5.50" fill="#000" xml:space="preserve" textLength="45.60" lengthAdjust="spacingAndGlyphs" stroke="#000" stroke-width="0.15"><tspan font-weight="bold">ALL-50 8h </tspan><tspan font-weight="bold" font-style="italic">in vivo</tspan></text>
<text x="420.95" y="297.00" font-size="5.50" fill="#000" xml:space="preserve" textLength="45.60" lengthAdjust="spacingAndGlyphs" stroke="#000" stroke-width="0.15"><tspan font-weight="bold">ALL-54 8h </tspan><tspan font-weight="bold" font-style="italic">in vivo</tspan></text>
<path d="M422.50 264.30 V226.50 H448.50 V273.80" fill="none" stroke="#000" stroke-width="0.80"/>
<text x="433.40" y="223.85" font-size="8.00" fill="#000" font-weight="bold" stroke="#000" stroke-width="0.22">*</text>
<path d="M439.50 235.50 V224.50 H465.50 V273.80" fill="none" stroke="#000" stroke-width="0.80"/>
<text x="451.80" y="223.85" font-size="8.00" fill="#000" font-weight="bold" stroke="#000" stroke-width="0.22">*</text>
<rect x="477.85" y="215.35" width="7.00" height="3.30" fill="#727272" stroke="#000" stroke-width="1.30"/>
<text x="488.30" y="219.00" font-size="5.50" fill="#111" textLength="30.70" lengthAdjust="spacingAndGlyphs" stroke="#111" stroke-width="0.12">BCL2 MBS1</text>
<rect x="477.20" y="222.70" width="8.30" height="4.60" fill="#000"/>
<rect x="478.50" y="224.40" width="1.10" height="1.20" fill="#fff"/>
<rect x="480.60" y="224.40" width="1.10" height="1.20" fill="#fff"/>
<rect x="482.70" y="224.40" width="1.10" height="1.20" fill="#fff"/>
<text x="488.30" y="227.00" font-size="5.50" fill="#111" textLength="30.70" lengthAdjust="spacingAndGlyphs" stroke="#111" stroke-width="0.12">BCL2 MBS2</text>
<rect x="477.85" y="231.45" width="7.00" height="3.30" fill="#a9a9a9" stroke="#000" stroke-width="1.30"/>
<text x="488.30" y="235.10" font-size="5.50" fill="#111" textLength="30.70" lengthAdjust="spacingAndGlyphs" stroke="#111" stroke-width="0.12">BCL2 MBS3</text>
<rect x="477.85" y="239.25" width="7.00" height="3.30" fill="#cccccc" stroke="#000" stroke-width="1.30"/>
<text x="488.30" y="242.90" font-size="5.50" fill="#111" textLength="30.70" lengthAdjust="spacingAndGlyphs" stroke="#111" stroke-width="0.12">BCL2 MBS4</text>
<text x="1.20" y="321.30" font-size="10.20" fill="#000" font-weight="bold" stroke="#000" stroke-width="0.29">E</text>
<text x="20.50" y="319.30" font-size="7.52" fill="#000" xml:space="preserve" textLength="128.30" lengthAdjust="spacingAndGlyphs" stroke="#000" stroke-width="0.21"><tspan font-weight="bold">SP1 binding sites at the </tspan><tspan font-weight="bold" font-style="italic">BCL2</tspan><tspan font-weight="bold"> locus</tspan></text>
<line x1="18.50" y1="332.00" x2="32.50" y2="332.00" stroke="#222" stroke-width="0.60"/>
<line x1="18.50" y1="330.00" x2="18.50" y2="332.30" stroke="#222" stroke-width="0.60"/>
<line x1="32.50" y1="330.00" x2="32.50" y2="332.30" stroke="#222" stroke-width="0.60"/>
<text x="18.80" y="330.80" font-size="4.60" fill="#000" textLength="13.50" lengthAdjust="spacingAndGlyphs" stroke="#000" stroke-width="0.10">500 bp</text>
<line x1="16.30" y1="338.30" x2="161.30" y2="338.30" stroke="#222" stroke-width="0.60"/>
<text x="38.70" y="331.50" font-size="5.80" fill="#000" textLength="6.60" lengthAdjust="spacingAndGlyphs" stroke="#000" stroke-width="0.12">R1</text>
<line x1="39.90" y1="334.40" x2="44.10" y2="334.40" stroke="#000" stroke-width="1.00"/>
<text x="76.40" y="331.50" font-size="5.80" fill="#000" textLength="6.60" lengthAdjust="spacingAndGlyphs" stroke="#000" stroke-width="0.12">R2</text>
<line x1="77.60" y1="334.40" x2="81.80" y2="334.40" stroke="#000" stroke-width="1.00"/>
<text x="97.10" y="331.50" font-size="5.80" fill="#000" textLength="6.60" lengthAdjust="spacingAndGlyphs" stroke="#000" stroke-width="0.12">R3</text>
<line x1="98.30" y1="334.40" x2="102.50" y2="334.40" stroke="#000" stroke-width="1.00"/>
<text x="110.10" y="331.50" font-size="5.80" fill="#000" textLength="6.60" lengthAdjust="spacingAndGlyphs" stroke="#000" stroke-width="0.12">R4</text>
<line x1="111.30" y1="334.40" x2="115.50" y2="334.40" stroke="#000" stroke-width="1.00"/>
<text x="127.00" y="331.50" font-size="5.80" fill="#000" textLength="6.60" lengthAdjust="spacingAndGlyphs" stroke="#000" stroke-width="0.12">R5</text>
<line x1="128.20" y1="334.40" x2="132.40" y2="334.40" stroke="#000" stroke-width="1.00"/>
<line x1="43.75" y1="336.60" x2="43.75" y2="340.00" stroke="#000" stroke-width="0.90"/>
<line x1="72.10" y1="336.60" x2="72.10" y2="340.00" stroke="#000" stroke-width="0.90"/>
<line x1="94.30" y1="336.60" x2="94.30" y2="340.00" stroke="#000" stroke-width="0.90"/>
<line x1="129.70" y1="336.60" x2="129.70" y2="340.00" stroke="#000" stroke-width="0.90"/>
<rect x="99.90" y="336.90" width="3.40" height="2.80" fill="#111"/>
<line x1="80.20" y1="336.90" x2="80.20" y2="339.70" stroke="#555" stroke-width="0.70"/>
<line x1="83.80" y1="336.90" x2="83.80" y2="339.70" stroke="#555" stroke-width="0.70"/>
<line x1="105.90" y1="336.90" x2="105.90" y2="339.70" stroke="#555" stroke-width="0.70"/>
<line x1="107.50" y1="336.90" x2="107.50" y2="339.70" stroke="#555" stroke-width="0.70"/>
<line x1="112.30" y1="336.90" x2="112.30" y2="339.70" stroke="#555" stroke-width="0.70"/>
<line x1="113.50" y1="336.90" x2="113.50" y2="339.70" stroke="#555" stroke-width="0.70"/>
<line x1="114.70" y1="336.90" x2="114.70" y2="339.70" stroke="#555" stroke-width="0.70"/>
<path d="M139.40 338.30 V335.10 H158.50" fill="none" stroke="#000" stroke-width="1.00"/>
<path d="M160.00 335.10 l-3.8 -1.9 l0.8 1.9 l-0.8 1.9 z" fill="#000" stroke="none" stroke-width="0.00"/>
<text x="141.00" y="332.40" font-size="4.70" fill="#000" textLength="7.20" lengthAdjust="spacingAndGlyphs" stroke="#000" stroke-width="0.08">TSS</text>
<text x="25.00" y="355.20" font-size="6.59" fill="#000" xml:space="preserve" textLength="95.50" lengthAdjust="spacingAndGlyphs" stroke="#000" stroke-width="0.18"><tspan font-weight="bold">SP1 binding at the </tspan><tspan font-weight="bold" font-style="italic">BCL2</tspan><tspan font-weight="bold"> locus</tspan></text>
<text x="-8.80" y="398.80" font-size="5.60" fill="#000" font-weight="bold" textLength="30.40" lengthAdjust="spacingAndGlyphs" stroke="#000" stroke-width="0.16" transform="rotate(-90 6.40 398.80)">Enrichment</text>
<text x="-19.60" y="398.50" font-size="4.90" fill="#000" font-weight="bold" textLength="63.40" lengthAdjust="spacingAndGlyphs" stroke="#000" stroke-width="0.06" transform="rotate(-90 12.10 398.50)">(normalized to IgG Control)</text>
<line x1="20.50" y1="363.80" x2="20.50" y2="433.70" stroke="#000" stroke-width="1.00"/>
<line x1="20.00" y1="433.20" x2="125.00" y2="433.20" stroke="#000" stroke-width="1.00"/>
<line x1="18.90" y1="433.20" x2="20.50" y2="433.20" stroke="#000" stroke-width="0.80"/>
<text x="15.90" y="434.95" font-size="5.00" fill="#000" font-weight="bold" textLength="2.40" lengthAdjust="spacingAndGlyphs" stroke="#000" stroke-width="0.14">0</text>
<line x1="18.90" y1="415.98" x2="20.50" y2="415.98" stroke="#000" stroke-width="0.80"/>
<text x="15.90" y="417.73" font-size="5.00" fill="#000" font-weight="bold" textLength="2.40" lengthAdjust="spacingAndGlyphs" stroke="#000" stroke-width="0.14">2</text>
<line x1="18.90" y1="398.75" x2="20.50" y2="398.75" stroke="#000" stroke-width="0.80"/>
<text x="15.90" y="400.50" font-size="5.00" fill="#000" font-weight="bold" textLength="2.40" lengthAdjust="spacingAndGlyphs" stroke="#000" stroke-width="0.14">4</text>
<line x1="18.90" y1="381.52" x2="20.50" y2="381.52" stroke="#000" stroke-width="0.80"/>
<text x="15.90" y="383.27" font-size="5.00" fill="#000" font-weight="bold" textLength="2.40" lengthAdjust="spacingAndGlyphs" stroke="#000" stroke-width="0.14">6</text>
<line x1="18.90" y1="364.30" x2="20.50" y2="364.30" stroke="#000" stroke-width="0.80"/>
<text x="15.90" y="366.05" font-size="5.00" fill="#000" font-weight="bold" textLength="2.40" lengthAdjust="spacingAndGlyphs" stroke="#000" stroke-width="0.14">8</text>
<line x1="24.87" y1="419.02" x2="24.87" y2="418.16" stroke="#000" stroke-width="1.00"/>
<line x1="23.77" y1="418.16" x2="25.97" y2="418.16" stroke="#000" stroke-width="0.90"/>
<rect x="23.50" y="419.52" width="2.74" height="13.68" fill="#5a5a5a" stroke="#000" stroke-width="1.00"/>
<line x1="29.44" y1="399.22" x2="29.44" y2="392.33" stroke="#000" stroke-width="1.00"/>
<line x1="28.34" y1="392.33" x2="30.54" y2="392.33" stroke="#000" stroke-width="0.90"/>
<rect x="27.56" y="399.22" width="3.74" height="33.98" fill="#000"/>
<rect x="28.71" y="400.22" width="1.44" height="1.40" fill="#fff"/>
<rect x="28.71" y="402.92" width="1.44" height="1.40" fill="#fff"/>
<rect x="28.71" y="405.62" width="1.44" height="1.40" fill="#fff"/>
<rect x="28.71" y="408.32" width="1.44" height="1.40" fill="#fff"/>
<rect x="28.71" y="411.02" width="1.44" height="1.40" fill="#fff"/>
<rect x="28.71" y="413.72" width="1.44" height="1.40" fill="#fff"/>
<rect x="28.71" y="416.42" width="1.44" height="1.40" fill="#fff"/>
<rect x="28.71" y="419.12" width="1.44" height="1.40" fill="#fff"/>
<rect x="28.71" y="421.82" width="1.44" height="1.40" fill="#fff"/>
<rect x="28.71" y="424.52" width="1.44" height="1.40" fill="#fff"/>
<rect x="28.71" y="427.22" width="1.44" height="1.40" fill="#fff"/>
<rect x="28.71" y="429.92" width="1.44" height="1.40" fill="#fff"/>
<line x1="34.00" y1="418.16" x2="34.00" y2="413.86" stroke="#000" stroke-width="1.00"/>
<line x1="32.90" y1="413.86" x2="35.10" y2="413.86" stroke="#000" stroke-width="0.90"/>
<rect x="32.63" y="418.66" width="2.74" height="14.54" fill="#9a9a9a" stroke="#000" stroke-width="1.00"/>
<line x1="38.56" y1="385.44" x2="38.56" y2="376.84" stroke="#000" stroke-width="1.00"/>
<line x1="37.46" y1="376.84" x2="39.66" y2="376.84" stroke="#000" stroke-width="0.90"/>
<rect x="37.19" y="385.94" width="2.74" height="47.25" fill="#c4c4c4" stroke="#000" stroke-width="1.00"/>
<line x1="43.13" y1="415.58" x2="43.13" y2="411.28" stroke="#000" stroke-width="1.00"/>
<line x1="42.03" y1="411.28" x2="44.23" y2="411.28" stroke="#000" stroke-width="0.90"/>
<rect x="41.76" y="416.08" width="2.74" height="17.12" fill="#8a8a8a" stroke="#000" stroke-width="1.00"/>
<line x1="50.62" y1="413.00" x2="50.62" y2="403.53" stroke="#000" stroke-width="1.00"/>
<line x1="49.52" y1="403.53" x2="51.72" y2="403.53" stroke="#000" stroke-width="0.90"/>
<rect x="49.25" y="413.50" width="2.74" height="19.70" fill="#5a5a5a" stroke="#000" stroke-width="1.00"/>
<line x1="55.19" y1="393.19" x2="55.19" y2="389.75" stroke="#000" stroke-width="1.00"/>
<line x1="54.09" y1="389.75" x2="56.29" y2="389.75" stroke="#000" stroke-width="0.90"/>
<rect x="53.31" y="393.19" width="3.74" height="40.01" fill="#000"/>
<rect x="54.46" y="394.19" width="1.44" height="1.40" fill="#fff"/>
<rect x="54.46" y="396.89" width="1.44" height="1.40" fill="#fff"/>
<rect x="54.46" y="399.59" width="1.44" height="1.40" fill="#fff"/>
<rect x="54.46" y="402.29" width="1.44" height="1.40" fill="#fff"/>
<rect x="54.46" y="404.99" width="1.44" height="1.40" fill="#fff"/>
<rect x="54.46" y="407.69" width="1.44" height="1.40" fill="#fff"/>
<rect x="54.46" y="410.39" width="1.44" height="1.40" fill="#fff"/>
<rect x="54.46" y="413.09" width="1.44" height="1.40" fill="#fff"/>
<rect x="54.46" y="415.79" width="1.44" height="1.40" fill="#fff"/>
<rect x="54.46" y="418.49" width="1.44" height="1.40" fill="#fff"/>
<rect x="54.46" y="421.19" width="1.44" height="1.40" fill="#fff"/>
<rect x="54.46" y="423.89" width="1.44" height="1.40" fill="#fff"/>
<rect x="54.46" y="426.59" width="1.44" height="1.40" fill="#fff"/>
<rect x="54.46" y="429.29" width="1.44" height="1.40" fill="#fff"/>
<rect x="54.46" y="431.99" width="1.44" height="1.40" fill="#fff"/>
<line x1="59.75" y1="421.61" x2="59.75" y2="419.88" stroke="#000" stroke-width="1.00"/>
<line x1="58.65" y1="419.88" x2="60.85" y2="419.88" stroke="#000" stroke-width="0.90"/>
<rect x="58.38" y="422.11" width="2.74" height="11.09" fill="#9a9a9a" stroke="#000" stroke-width="1.00"/>
<line x1="64.31" y1="388.89" x2="64.31" y2="375.97" stroke="#000" stroke-width="1.00"/>
<line x1="63.21" y1="375.97" x2="65.41" y2="375.97" stroke="#000" stroke-width="0.90"/>
<rect x="62.94" y="389.39" width="2.74" height="43.81" fill="#c4c4c4" stroke="#000" stroke-width="1.00"/>
<line x1="68.88" y1="416.44" x2="68.88" y2="415.58" stroke="#000" stroke-width="1.00"/>
<line x1="67.78" y1="415.58" x2="69.98" y2="415.58" stroke="#000" stroke-width="0.90"/>
<rect x="67.51" y="416.94" width="2.74" height="16.26" fill="#8a8a8a" stroke="#000" stroke-width="1.00"/>
<line x1="76.87" y1="419.02" x2="76.87" y2="417.30" stroke="#000" stroke-width="1.00"/>
<line x1="75.77" y1="417.30" x2="77.97" y2="417.30" stroke="#000" stroke-width="0.90"/>
<rect x="75.50" y="419.52" width="2.74" height="13.68" fill="#5a5a5a" stroke="#000" stroke-width="1.00"/>
<line x1="81.44" y1="404.39" x2="81.44" y2="399.22" stroke="#000" stroke-width="1.00"/>
<line x1="80.34" y1="399.22" x2="82.54" y2="399.22" stroke="#000" stroke-width="0.90"/>
<rect x="79.56" y="404.39" width="3.74" height="28.81" fill="#000"/>
<rect x="80.71" y="405.39" width="1.44" height="1.40" fill="#fff"/>
<rect x="80.71" y="408.09" width="1.44" height="1.40" fill="#fff"/>
<rect x="80.71" y="410.79" width="1.44" height="1.40" fill="#fff"/>
<rect x="80.71" y="413.49" width="1.44" height="1.40" fill="#fff"/>
<rect x="80.71" y="416.19" width="1.44" height="1.40" fill="#fff"/>
<rect x="80.71" y="418.89" width="1.44" height="1.40" fill="#fff"/>
<rect x="80.71" y="421.59" width="1.44" height="1.40" fill="#fff"/>
<rect x="80.71" y="424.29" width="1.44" height="1.40" fill="#fff"/>
<rect x="80.71" y="426.99" width="1.44" height="1.40" fill="#fff"/>
<rect x="80.71" y="429.69" width="1.44" height="1.40" fill="#fff"/>
<line x1="86.00" y1="421.61" x2="86.00" y2="417.30" stroke="#000" stroke-width="1.00"/>
<line x1="84.90" y1="417.30" x2="87.10" y2="417.30" stroke="#000" stroke-width="0.90"/>
<rect x="84.63" y="422.11" width="2.74" height="11.09" fill="#9a9a9a" stroke="#000" stroke-width="1.00"/>
<line x1="90.56" y1="401.80" x2="90.56" y2="395.78" stroke="#000" stroke-width="1.00"/>
<line x1="89.46" y1="395.78" x2="91.66" y2="395.78" stroke="#000" stroke-width="0.90"/>
<rect x="89.19" y="402.30" width="2.74" height="30.90" fill="#c4c4c4" stroke="#000" stroke-width="1.00"/>
<line x1="95.13" y1="421.61" x2="95.13" y2="418.16" stroke="#000" stroke-width="1.00"/>
<line x1="94.03" y1="418.16" x2="96.23" y2="418.16" stroke="#000" stroke-width="0.90"/>
<rect x="93.76" y="422.11" width="2.74" height="11.09" fill="#8a8a8a" stroke="#000" stroke-width="1.00"/>
<line x1="102.64" y1="418.16" x2="102.64" y2="413.86" stroke="#000" stroke-width="1.00"/>
<line x1="101.54" y1="413.86" x2="103.74" y2="413.86" stroke="#000" stroke-width="0.90"/>
<rect x="101.25" y="418.66" width="2.79" height="14.54" fill="#5a5a5a" stroke="#000" stroke-width="1.00"/>
<line x1="107.26" y1="403.53" x2="107.26" y2="395.78" stroke="#000" stroke-width="1.00"/>
<line x1="106.16" y1="395.78" x2="108.36" y2="395.78" stroke="#000" stroke-width="0.90"/>
<rect x="105.37" y="403.53" width="3.79" height="29.67" fill="#000"/>
<rect x="106.52" y="404.53" width="1.49" height="1.40" fill="#fff"/>
<rect x="106.52" y="407.23" width="1.49" height="1.40" fill="#fff"/>
<rect x="106.52" y="409.93" width="1.49" height="1.40" fill="#fff"/>
<rect x="106.52" y="412.63" width="1.49" height="1.40" fill="#fff"/>
<rect x="106.52" y="415.33" width="1.49" height="1.40" fill="#fff"/>
<rect x="106.52" y="418.03" width="1.49" height="1.40" fill="#fff"/>
<rect x="106.52" y="420.73" width="1.49" height="1.40" fill="#fff"/>
<rect x="106.52" y="423.43" width="1.49" height="1.40" fill="#fff"/>
<rect x="106.52" y="426.13" width="1.49" height="1.40" fill="#fff"/>
<rect x="106.52" y="428.83" width="1.49" height="1.40" fill="#fff"/>
<rect x="106.52" y="431.53" width="1.49" height="1.40" fill="#fff"/>
<line x1="111.88" y1="427.63" x2="111.88" y2="426.77" stroke="#000" stroke-width="1.00"/>
<line x1="110.78" y1="426.77" x2="112.97" y2="426.77" stroke="#000" stroke-width="0.90"/>
<rect x="110.48" y="428.13" width="2.79" height="5.07" fill="#9a9a9a" stroke="#000" stroke-width="1.00"/>
<line x1="116.49" y1="422.47" x2="116.49" y2="419.02" stroke="#000" stroke-width="1.00"/>
<line x1="115.39" y1="419.02" x2="117.59" y2="419.02" stroke="#000" stroke-width="0.90"/>
<rect x="115.10" y="422.97" width="2.79" height="10.23" fill="#c4c4c4" stroke="#000" stroke-width="1.00"/>
<line x1="121.11" y1="424.19" x2="121.11" y2="422.47" stroke="#000" stroke-width="1.00"/>
<line x1="120.01" y1="422.47" x2="122.21" y2="422.47" stroke="#000" stroke-width="0.90"/>
<rect x="119.71" y="424.69" width="2.79" height="8.51" fill="#8a8a8a" stroke="#000" stroke-width="1.00"/>
<line x1="20.50" y1="433.20" x2="20.50" y2="452.40" stroke="#000" stroke-width="0.80"/>
<line x1="72.50" y1="433.20" x2="72.50" y2="452.40" stroke="#000" stroke-width="0.80"/>
<line x1="124.50" y1="433.20" x2="124.50" y2="452.40" stroke="#000" stroke-width="0.80"/>
<line x1="34.00" y1="433.20" x2="34.00" y2="434.50" stroke="#000" stroke-width="0.70"/>
<text x="24.60" y="440.50" font-size="5.30" fill="#000" font-weight="bold" textLength="18.00" lengthAdjust="spacingAndGlyphs" stroke="#000" stroke-width="0.15">Control</text>
<line x1="59.75" y1="433.20" x2="59.75" y2="434.50" stroke="#000" stroke-width="0.70"/>
<text x="53.75" y="440.50" font-size="5.30" fill="#000" font-weight="bold" textLength="12.00" lengthAdjust="spacingAndGlyphs" stroke="#000" stroke-width="0.15">+Dex</text>
<line x1="86.00" y1="433.20" x2="86.00" y2="434.50" stroke="#000" stroke-width="0.70"/>
<text x="76.60" y="440.50" font-size="5.30" fill="#000" font-weight="bold" textLength="18.00" lengthAdjust="spacingAndGlyphs" stroke="#000" stroke-width="0.15">Control</text>
<line x1="111.88" y1="433.20" x2="111.88" y2="434.50" stroke="#000" stroke-width="0.70"/>
<text x="105.88" y="440.50" font-size="5.30" fill="#000" font-weight="bold" textLength="12.00" lengthAdjust="spacingAndGlyphs" stroke="#000" stroke-width="0.15">+Dex</text>
<text x="24.07" y="448.90" font-size="5.50" fill="#000" xml:space="preserve" textLength="45.60" lengthAdjust="spacingAndGlyphs" stroke="#000" stroke-width="0.15"><tspan font-weight="bold">ALL-50 8h </tspan><tspan font-weight="bold" font-style="italic">in vivo</tspan></text>
<text x="76.20" y="448.90" font-size="5.50" fill="#000" xml:space="preserve" textLength="45.60" lengthAdjust="spacingAndGlyphs" stroke="#000" stroke-width="0.15"><tspan font-weight="bold">ALL-54 8h </tspan><tspan font-weight="bold" font-style="italic">in vivo</tspan></text>
<path d="M90.50 394.50 V374.50 H116.50 V418.50" fill="none" stroke="#000" stroke-width="0.80"/>
<text x="101.70" y="372.65" font-size="8.00" fill="#000" font-weight="bold" stroke="#000" stroke-width="0.22">*</text>
<rect x="129.45" y="367.25" width="7.00" height="3.30" fill="#727272" stroke="#000" stroke-width="1.30"/>
<text x="141.20" y="370.90" font-size="5.50" fill="#111" textLength="22.00" lengthAdjust="spacingAndGlyphs" stroke="#111" stroke-width="0.12">BCL2 R1</text>
<rect x="128.80" y="374.40" width="8.30" height="4.60" fill="#000"/>
<rect x="130.10" y="376.10" width="1.10" height="1.20" fill="#fff"/>
<rect x="132.20" y="376.10" width="1.10" height="1.20" fill="#fff"/>
<rect x="134.30" y="376.10" width="1.10" height="1.20" fill="#fff"/>
<text x="141.20" y="378.70" font-size="5.50" fill="#111" textLength="22.00" lengthAdjust="spacingAndGlyphs" stroke="#111" stroke-width="0.12">BCL2 R2</text>
<rect x="129.45" y="383.15" width="7.00" height="3.30" fill="#a9a9a9" stroke="#000" stroke-width="1.30"/>
<text x="141.20" y="386.80" font-size="5.50" fill="#111" textLength="22.00" lengthAdjust="spacingAndGlyphs" stroke="#111" stroke-width="0.12">BCL2 R3</text>
<rect x="129.45" y="390.95" width="7.00" height="3.30" fill="#cccccc" stroke="#000" stroke-width="1.30"/>
<text x="141.20" y="394.60" font-size="5.50" fill="#111" textLength="22.00" lengthAdjust="spacingAndGlyphs" stroke="#111" stroke-width="0.12">BCL2 R4</text>
<rect x="129.45" y="398.85" width="7.00" height="3.30" fill="#9b9b9b" stroke="#000" stroke-width="1.30"/>
<text x="141.20" y="402.50" font-size="5.50" fill="#111" textLength="22.00" lengthAdjust="spacingAndGlyphs" stroke="#111" stroke-width="0.12">BCL2 R5</text>
<text x="169.80" y="321.30" font-size="10.20" fill="#000" font-weight="bold" stroke="#000" stroke-width="0.29">F</text>
<text x="186.30" y="319.30" font-size="7.52" fill="#000" xml:space="preserve" textLength="136.20" lengthAdjust="spacingAndGlyphs" stroke="#000" stroke-width="0.21"><tspan font-weight="bold">SP1 binding sites at the </tspan><tspan font-weight="bold" font-style="italic">BCL-XL</tspan><tspan font-weight="bold"> locus</tspan></text>
<line x1="183.80" y1="331.20" x2="198.80" y2="331.20" stroke="#222" stroke-width="0.60"/>
<line x1="183.80" y1="329.20" x2="183.80" y2="331.50" stroke="#222" stroke-width="0.60"/>
<line x1="198.80" y1="329.20" x2="198.80" y2="331.50" stroke="#222" stroke-width="0.60"/>
<text x="184.20" y="329.30" font-size="4.60" fill="#000" textLength="14.30" lengthAdjust="spacingAndGlyphs" stroke="#000" stroke-width="0.10">500 bp</text>
<line x1="181.30" y1="338.30" x2="343.80" y2="338.30" stroke="#222" stroke-width="0.60"/>
<text x="204.90" y="331.50" font-size="5.80" fill="#000" textLength="6.60" lengthAdjust="spacingAndGlyphs" stroke="#000" stroke-width="0.12">R1</text>
<line x1="206.10" y1="334.40" x2="210.30" y2="334.40" stroke="#000" stroke-width="1.00"/>
<text x="223.70" y="331.50" font-size="5.80" fill="#000" textLength="6.60" lengthAdjust="spacingAndGlyphs" stroke="#000" stroke-width="0.12">R2</text>
<line x1="224.90" y1="334.40" x2="229.10" y2="334.40" stroke="#000" stroke-width="1.00"/>
<text x="276.10" y="331.50" font-size="5.80" fill="#000" textLength="6.60" lengthAdjust="spacingAndGlyphs" stroke="#000" stroke-width="0.12">R3</text>
<line x1="277.30" y1="334.40" x2="281.50" y2="334.40" stroke="#000" stroke-width="1.00"/>
<text x="293.90" y="331.50" font-size="5.80" fill="#000" textLength="6.60" lengthAdjust="spacingAndGlyphs" stroke="#000" stroke-width="0.12">R4</text>
<line x1="295.10" y1="334.40" x2="299.30" y2="334.40" stroke="#000" stroke-width="1.00"/>
<line x1="227.30" y1="336.60" x2="227.30" y2="340.00" stroke="#000" stroke-width="0.90"/>
<line x1="284.30" y1="336.60" x2="284.30" y2="340.00" stroke="#000" stroke-width="0.90"/>
<line x1="289.30" y1="336.60" x2="289.30" y2="340.00" stroke="#000" stroke-width="0.90"/>
<line x1="291.30" y1="336.60" x2="291.30" y2="340.00" stroke="#000" stroke-width="0.90"/>
<line x1="302.90" y1="336.60" x2="302.90" y2="340.00" stroke="#000" stroke-width="0.90"/>
<line x1="210.50" y1="336.90" x2="210.50" y2="339.70" stroke="#555" stroke-width="0.70"/>
<line x1="276.60" y1="336.90" x2="276.60" y2="339.70" stroke="#555" stroke-width="0.70"/>
<line x1="278.00" y1="336.90" x2="278.00" y2="339.70" stroke="#555" stroke-width="0.70"/>
<line x1="279.40" y1="336.90" x2="279.40" y2="339.70" stroke="#555" stroke-width="0.70"/>
<line x1="280.80" y1="336.90" x2="280.80" y2="339.70" stroke="#555" stroke-width="0.70"/>
<line x1="293.30" y1="336.90" x2="293.30" y2="339.70" stroke="#555" stroke-width="0.70"/>
<path d="M311.50 338.30 V335.10 H332.10" fill="none" stroke="#000" stroke-width="1.00"/>
<path d="M333.60 335.10 l-3.8 -1.9 l0.8 1.9 l-0.8 1.9 z" fill="#000" stroke="none" stroke-width="0.00"/>
<text x="312.80" y="332.40" font-size="4.70" fill="#000" textLength="7.20" lengthAdjust="spacingAndGlyphs" stroke="#000" stroke-width="0.08">TSS</text>
<line x1="351.20" y1="323.80" x2="351.20" y2="329.50" stroke="#222" stroke-width="0.80" stroke-dasharray="2.4 0.8"/>
<text x="354.20" y="329.00" font-size="6.69" fill="#000" textLength="55.00" lengthAdjust="spacingAndGlyphs" stroke="#000" stroke-width="0.15">GC-rich Sequence</text>
<line x1="351.20" y1="331.90" x2="351.20" y2="337.60" stroke="#000" stroke-width="0.80"/>
<text x="353.80" y="337.10" font-size="6.80" fill="#000" textLength="37.80" lengthAdjust="spacingAndGlyphs" stroke="#000" stroke-width="0.15">CACCC Box</text>
<text x="197.30" y="355.20" font-size="6.87" fill="#000" xml:space="preserve" textLength="96.30" lengthAdjust="spacingAndGlyphs" stroke="#000" stroke-width="0.19"><tspan font-weight="bold">SP1 binding in ALL-54 </tspan><tspan font-weight="bold" font-style="italic">in vivo</tspan></text>
<text x="159.60" y="398.80" font-size="5.60" fill="#000" font-weight="bold" textLength="30.40" lengthAdjust="spacingAndGlyphs" stroke="#000" stroke-width="0.16" transform="rotate(-90 174.80 398.80)">Enrichment</text>
<text x="148.70" y="398.50" font-size="4.90" fill="#000" font-weight="bold" textLength="63.40" lengthAdjust="spacingAndGlyphs" stroke="#000" stroke-width="0.06" transform="rotate(-90 180.40 398.50)">(normalized to IgG Control)</text>
<line x1="189.60" y1="363.80" x2="189.60" y2="433.70" stroke="#000" stroke-width="1.00"/>
<line x1="189.10" y1="433.20" x2="292.50" y2="433.20" stroke="#000" stroke-width="1.00"/>
<line x1="188.00" y1="433.20" x2="189.60" y2="433.20" stroke="#000" stroke-width="0.80"/>
<text x="185.00" y="434.95" font-size="5.00" fill="#000" font-weight="bold" textLength="2.40" lengthAdjust="spacingAndGlyphs" stroke="#000" stroke-width="0.14">0</text>
<line x1="188.00" y1="419.42" x2="189.60" y2="419.42" stroke="#000" stroke-width="0.80"/>
<text x="185.00" y="421.17" font-size="5.00" fill="#000" font-weight="bold" textLength="2.40" lengthAdjust="spacingAndGlyphs" stroke="#000" stroke-width="0.14">5</text>
<line x1="188.00" y1="405.64" x2="189.60" y2="405.64" stroke="#000" stroke-width="0.80"/>
<text x="182.60" y="407.39" font-size="5.00" fill="#000" font-weight="bold" textLength="4.80" lengthAdjust="spacingAndGlyphs" stroke="#000" stroke-width="0.14">10</text>
<line x1="188.00" y1="391.86" x2="189.60" y2="391.86" stroke="#000" stroke-width="0.80"/>
<text x="182.60" y="393.61" font-size="5.00" fill="#000" font-weight="bold" textLength="4.80" lengthAdjust="spacingAndGlyphs" stroke="#000" stroke-width="0.14">15</text>
<line x1="188.00" y1="378.08" x2="189.60" y2="378.08" stroke="#000" stroke-width="0.80"/>
<text x="182.60" y="379.83" font-size="5.00" fill="#000" font-weight="bold" textLength="4.80" lengthAdjust="spacingAndGlyphs" stroke="#000" stroke-width="0.14">20</text>
<line x1="188.00" y1="364.30" x2="189.60" y2="364.30" stroke="#000" stroke-width="0.80"/>
<text x="182.60" y="366.05" font-size="5.00" fill="#000" font-weight="bold" textLength="4.80" lengthAdjust="spacingAndGlyphs" stroke="#000" stroke-width="0.14">25</text>
<line x1="197.96" y1="428.94" x2="197.96" y2="428.38" stroke="#000" stroke-width="1.00"/>
<line x1="196.86" y1="428.38" x2="199.06" y2="428.38" stroke="#000" stroke-width="0.90"/>
<rect x="194.25" y="429.44" width="7.43" height="3.76" fill="#c4c4c4" stroke="#000" stroke-width="1.00"/>
<line x1="207.54" y1="428.94" x2="207.54" y2="427.28" stroke="#000" stroke-width="1.00"/>
<line x1="206.44" y1="427.28" x2="208.64" y2="427.28" stroke="#000" stroke-width="0.90"/>
<rect x="203.82" y="429.44" width="7.43" height="3.76" fill="#000" stroke="#000" stroke-width="1.00"/>
<rect x="204.32" y="429.94" width="6.43" height="2.76" fill="url(#chk2)"/>
<line x1="224.21" y1="428.94" x2="224.21" y2="426.45" stroke="#000" stroke-width="1.00"/>
<line x1="223.11" y1="426.45" x2="225.31" y2="426.45" stroke="#000" stroke-width="0.90"/>
<rect x="220.50" y="429.44" width="7.43" height="3.76" fill="#c4c4c4" stroke="#000" stroke-width="1.00"/>
<line x1="233.79" y1="427.28" x2="233.79" y2="424.52" stroke="#000" stroke-width="1.00"/>
<line x1="232.69" y1="424.52" x2="234.89" y2="424.52" stroke="#000" stroke-width="0.90"/>
<rect x="230.07" y="427.78" width="7.43" height="5.42" fill="#000" stroke="#000" stroke-width="1.00"/>
<rect x="230.57" y="428.28" width="6.43" height="4.42" fill="url(#chk2)"/>
<line x1="250.29" y1="383.40" x2="250.29" y2="375.94" stroke="#000" stroke-width="1.00"/>
<line x1="249.19" y1="375.94" x2="251.39" y2="375.94" stroke="#000" stroke-width="0.90"/>
<rect x="246.75" y="383.90" width="7.07" height="49.30" fill="#c4c4c4" stroke="#000" stroke-width="1.00"/>
<line x1="259.46" y1="394.16" x2="259.46" y2="388.64" stroke="#000" stroke-width="1.00"/>
<line x1="258.36" y1="388.64" x2="260.56" y2="388.64" stroke="#000" stroke-width="0.90"/>
<rect x="255.93" y="394.66" width="7.07" height="38.54" fill="#000" stroke="#000" stroke-width="1.00"/>
<rect x="256.43" y="395.16" width="6.07" height="37.54" fill="url(#chk2)"/>
<line x1="276.10" y1="419.00" x2="276.10" y2="413.20" stroke="#000" stroke-width="1.00"/>
<line x1="275.00" y1="413.20" x2="277.20" y2="413.20" stroke="#000" stroke-width="0.90"/>
<rect x="272.50" y="419.50" width="7.19" height="13.70" fill="#c4c4c4" stroke="#000" stroke-width="1.00"/>
<line x1="285.40" y1="419.00" x2="285.40" y2="413.20" stroke="#000" stroke-width="1.00"/>
<line x1="284.30" y1="413.20" x2="286.50" y2="413.20" stroke="#000" stroke-width="0.90"/>
<rect x="281.81" y="419.50" width="7.19" height="13.70" fill="#000" stroke="#000" stroke-width="1.00"/>
<rect x="282.31" y="420.00" width="6.19" height="12.70" fill="url(#chk2)"/>
<line x1="202.75" y1="433.20" x2="202.75" y2="434.60" stroke="#000" stroke-width="0.70"/>
<text x="204.25" y="438.20" font-size="5.5" font-weight="bold" stroke="#000" stroke-width="0.15" text-anchor="end" textLength="26.6" lengthAdjust="spacingAndGlyphs" transform="rotate(-45 204.25 438.20)">BCL-XL R1</text>
<line x1="229.00" y1="433.20" x2="229.00" y2="434.60" stroke="#000" stroke-width="0.70"/>
<text x="230.50" y="438.20" font-size="5.5" font-weight="bold" stroke="#000" stroke-width="0.15" text-anchor="end" textLength="26.6" lengthAdjust="spacingAndGlyphs" transform="rotate(-45 230.50 438.20)">BCL-XL R2</text>
<line x1="254.88" y1="433.20" x2="254.88" y2="434.60" stroke="#000" stroke-width="0.70"/>
<text x="256.38" y="438.20" font-size="5.5" font-weight="bold" stroke="#000" stroke-width="0.15" text-anchor="end" textLength="26.6" lengthAdjust="spacingAndGlyphs" transform="rotate(-45 256.38 438.20)">BCL-XL R3</text>
<line x1="280.75" y1="433.20" x2="280.75" y2="434.60" stroke="#000" stroke-width="0.70"/>
<text x="282.25" y="438.20" font-size="5.5" font-weight="bold" stroke="#000" stroke-width="0.15" text-anchor="end" textLength="26.6" lengthAdjust="spacingAndGlyphs" transform="rotate(-45 282.25 438.20)">BCL-XL R4</text>
<rect x="301.25" y="382.15" width="6.90" height="3.30" fill="#cccccc" stroke="#000" stroke-width="1.30"/>
<text x="312.00" y="385.80" font-size="5.60" fill="#111" textLength="30.50" lengthAdjust="spacingAndGlyphs" stroke="#111" stroke-width="0.12">SP1 Control</text>
<rect x="300.60" y="390.70" width="8.20" height="4.60" fill="#000"/>
<rect x="301.90" y="392.40" width="1.10" height="1.20" fill="#fff"/>
<rect x="304.00" y="392.40" width="1.10" height="1.20" fill="#fff"/>
<rect x="306.10" y="392.40" width="1.10" height="1.20" fill="#fff"/>
<text x="312.00" y="395.00" font-size="5.60" fill="#111" textLength="25.50" lengthAdjust="spacingAndGlyphs" stroke="#111" stroke-width="0.12">SP1 +Dex</text>
</svg></body></html>
